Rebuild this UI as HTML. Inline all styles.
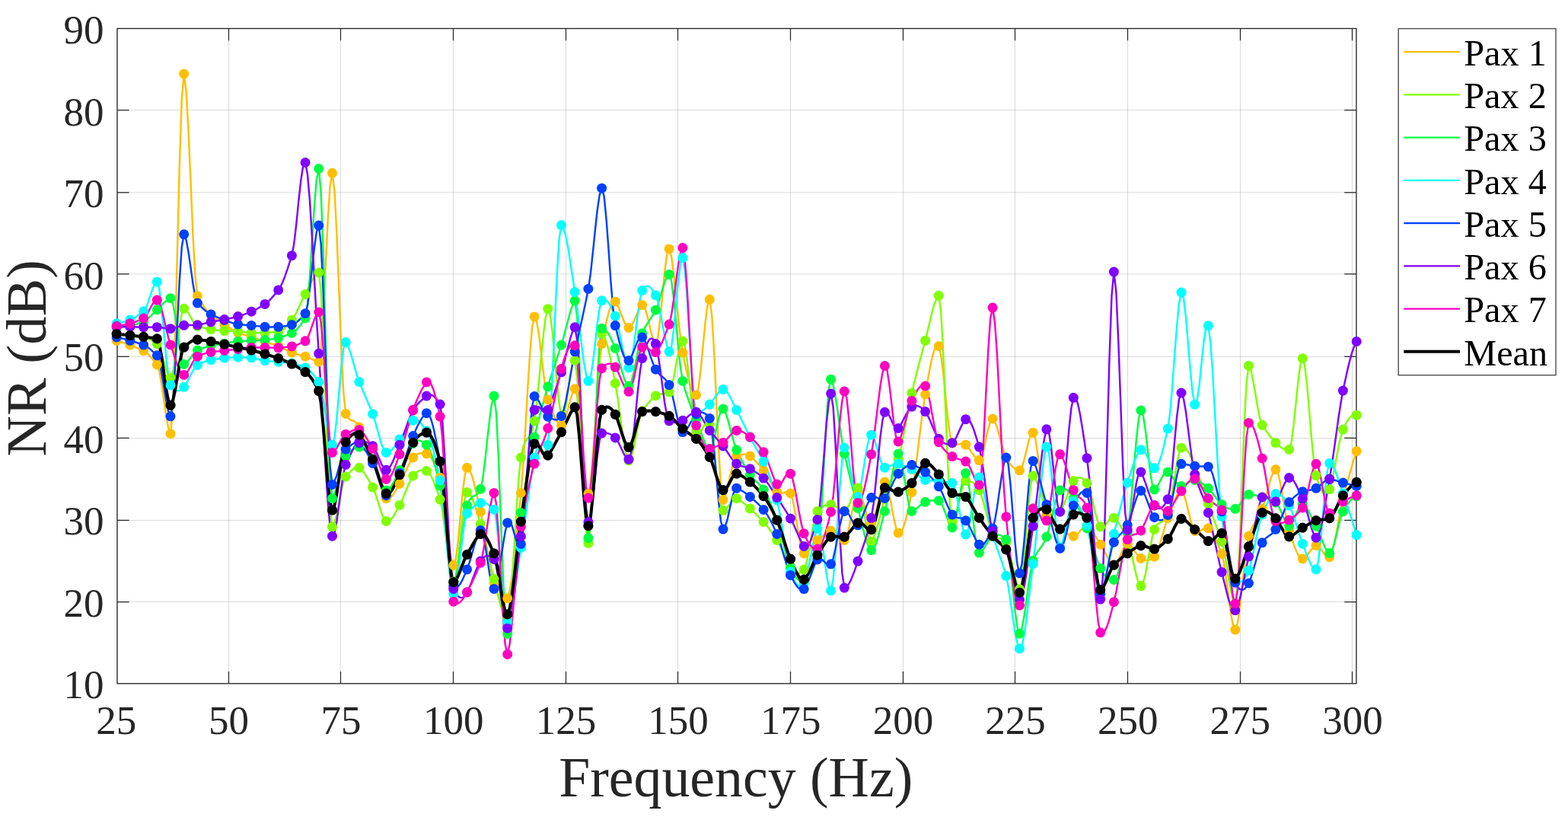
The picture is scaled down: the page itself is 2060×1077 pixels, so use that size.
<!DOCTYPE html>
<html lang="en"><head><meta charset="utf-8"><title>NR (dB) vs Frequency (Hz)</title>
<style>html,body{margin:0;padding:0;background:#fff;}body{width:2060px;height:1077px;overflow:hidden;}svg{display:block;}text{font-family:"Liberation Serif","DejaVu Serif",serif;fill:#262626;}</style></head><body>
<svg width="2060" height="1077" viewBox="0 0 2060 1077">
<rect x="0" y="0" width="2060" height="1077" fill="#ffffff"/>
<g stroke="#262626" stroke-opacity="0.17" stroke-width="1.0" fill="none"><path d="M300.50 37.47V897.80"/><path d="M447.50 37.47V897.80"/><path d="M595.50 37.47V897.80"/><path d="M743.50 37.47V897.80"/><path d="M890.50 37.47V897.80"/><path d="M1038.50 37.47V897.80"/><path d="M1186.50 37.47V897.80"/><path d="M1333.50 37.47V897.80"/><path d="M1481.50 37.47V897.80"/><path d="M1629.50 37.47V897.80"/><path d="M1776.50 37.47V897.80"/><path d="M153.97 790.55H1781.92"/><path d="M153.97 683.45H1781.92"/><path d="M153.97 575.45H1781.92"/><path d="M153.97 468.40H1781.92"/><path d="M153.97 359.90H1781.92"/><path d="M153.97 252.80H1781.92"/><path d="M153.97 144.50H1781.92"/></g>
<path d="M300.50 897.80v-15.70M300.50 37.47v15.70M447.50 897.80v-15.70M447.50 37.47v15.70M595.50 897.80v-15.70M595.50 37.47v15.70M743.50 897.80v-15.70M743.50 37.47v15.70M890.50 897.80v-15.70M890.50 37.47v15.70M1038.50 897.80v-15.70M1038.50 37.47v15.70M1186.50 897.80v-15.70M1186.50 37.47v15.70M1333.50 897.80v-15.70M1333.50 37.47v15.70M1481.50 897.80v-15.70M1481.50 37.47v15.70M1629.50 897.80v-15.70M1629.50 37.47v15.70M1776.50 897.80v-15.70M1776.50 37.47v15.70M153.97 790.55h15.70M1781.92 790.55h-15.70M153.97 683.45h15.70M1781.92 683.45h-15.70M153.97 575.45h15.70M1781.92 575.45h-15.70M153.97 468.40h15.70M1781.92 468.40h-15.70M153.97 359.90h15.70M1781.92 359.90h-15.70M153.97 252.80h15.70M1781.92 252.80h-15.70M153.97 144.50h15.70M1781.92 144.50h-15.70" stroke="#262626" stroke-width="1.25" fill="none"/>
<rect x="153.97" y="37.47" width="1627.95" height="860.33" fill="none" stroke="#262626" stroke-width="1.35"/>
<g fill="none" stroke-linejoin="round" stroke-linecap="butt">
<polyline stroke="#FFBF00" stroke-width="2.45" points="153.2,447.5 156.2,448.3 159.1,449.2 162.1,450.1 165.0,451.1 168.0,452.1 170.9,453.1 173.9,454.2 176.8,455.4 179.8,456.6 182.7,458.0 185.7,459.3 188.6,460.7 191.6,462.5 194.5,465.1 197.5,468.3 200.4,471.8 203.4,475.5 206.3,479.0 209.3,487.7 212.2,504.2 215.2,524.7 218.1,545.1 221.1,561.4 224.0,569.7 227.0,536.4 229.9,448.6 232.9,333.6 235.8,218.5 238.8,130.6 241.7,97.1 244.7,119.8 247.6,172.6 250.6,240.7 253.5,309.4 256.5,363.6 259.4,388.7 262.4,394.1 265.3,399.0 268.3,403.4 271.2,407.3 274.2,410.5 277.1,413.1 280.1,415.4 283.0,417.7 286.0,420.0 288.9,422.2 291.9,424.3 294.8,426.3 297.8,428.3 300.8,430.3 303.7,432.2 306.7,434.1 309.6,435.7 312.6,437.0 315.5,438.1 318.5,439.0 321.4,439.9 324.4,440.6 327.3,441.5 330.3,442.4 333.2,443.4 336.2,444.5 339.1,445.6 342.1,446.6 345.0,447.7 348.0,448.8 350.9,449.7 353.9,450.7 356.8,451.6 359.8,452.5 362.7,453.5 365.7,454.6 368.6,455.9 371.6,457.3 374.5,458.9 377.5,460.4 380.4,461.9 383.4,463.1 386.3,464.1 389.3,465.0 392.2,465.8 395.2,466.6 398.1,467.4 401.1,468.2 404.0,469.2 407.0,470.5 409.9,471.8 412.9,473.1 415.8,474.3 418.8,475.1 421.7,457.1 424.7,411.1 427.6,351.2 430.6,291.3 433.5,245.3 436.5,227.3 439.4,250.2 442.4,306.7 445.3,380.5 448.3,455.4 451.3,515.1 454.2,543.4 457.2,548.8 460.1,551.3 463.1,552.5 466.0,553.6 469.0,555.9 471.9,560.9 474.9,567.7 477.8,574.7 480.8,581.7 483.7,589.0 486.7,596.4 489.6,604.0 492.6,612.8 495.5,623.1 498.5,633.7 501.4,643.3 504.4,650.7 507.3,654.7 510.3,655.2 513.2,653.5 516.2,650.1 519.1,645.6 522.1,640.5 525.0,635.5 528.0,630.0 530.9,623.8 533.9,617.2 536.8,610.8 539.8,605.2 542.7,600.9 545.7,598.0 548.6,596.2 551.6,595.3 554.5,595.1 557.5,595.3 560.4,595.9 563.4,597.6 566.3,601.2 569.3,606.4 572.2,612.7 575.2,619.8 578.1,627.3 581.1,640.7 584.0,662.8 587.0,688.8 589.9,713.9 592.9,733.3 595.8,742.5 598.8,734.6 601.8,711.3 604.7,680.1 607.7,648.6 610.6,624.1 613.6,614.3 616.5,616.8 619.5,623.4 622.4,633.2 625.4,645.3 628.3,658.6 631.3,672.2 634.2,686.8 637.2,703.4 640.1,720.6 643.1,737.5 646.0,753.1 649.0,766.1 651.9,776.2 654.9,783.7 657.8,788.4 660.8,790.4 663.7,789.5 666.7,785.8 669.6,775.9 672.6,758.0 675.5,734.2 678.5,706.4 681.4,676.9 684.4,647.5 687.3,610.8 690.3,562.8 693.2,511.4 696.2,464.6 699.1,430.1 702.1,415.9 705.0,421.9 708.0,439.4 710.9,463.4 713.9,489.0 716.8,511.1 719.8,524.9 722.7,532.9 725.7,540.6 728.6,547.6 731.6,553.3 734.5,557.2 737.5,558.8 740.4,555.8 743.4,547.5 746.4,536.5 749.3,525.0 752.3,515.6 755.2,510.7 758.2,519.9 761.1,545.9 764.1,580.3 767.0,614.4 770.0,640.0 772.9,648.5 775.9,633.9 778.8,601.2 781.8,558.6 784.7,514.1 787.7,475.8 790.6,451.6 793.6,437.2 796.5,423.3 799.5,411.1 802.4,401.8 805.4,396.4 808.3,396.2 811.3,400.7 814.2,407.5 817.2,415.3 820.1,422.7 823.1,428.2 826.0,430.5 829.0,428.6 831.9,423.7 834.9,417.0 837.8,410.0 840.8,404.1 843.7,400.6 846.7,403.0 849.6,411.9 852.6,424.2 855.5,437.0 858.5,447.2 861.4,452.0 864.4,443.0 867.3,419.2 870.3,388.0 873.2,357.2 876.2,334.3 879.1,326.9 882.1,337.0 885.0,358.2 888.0,385.9 890.9,415.7 893.9,443.0 896.9,463.3 899.8,477.9 902.8,490.9 905.7,501.8 908.7,510.4 911.6,516.1 914.6,518.7 917.5,509.8 920.5,486.5 923.4,455.9 926.4,425.3 929.3,402.1 932.3,393.3 935.2,413.6 938.2,462.9 941.1,526.4 944.1,589.7 947.0,637.9 950.0,656.5 952.9,651.5 955.9,640.8 958.8,627.3 961.8,613.9 964.7,603.4 967.7,598.9 970.6,598.2 973.6,597.4 976.5,596.8 979.5,596.6 982.4,597.3 985.4,598.9 988.3,601.4 991.3,604.2 994.2,607.3 997.2,610.6 1000.1,614.2 1003.1,617.9 1006.0,622.1 1009.0,626.9 1011.9,632.1 1014.9,637.2 1017.8,642.0 1020.8,646.2 1023.7,648.4 1026.7,648.4 1029.6,647.3 1032.6,646.1 1035.5,646.0 1038.5,648.0 1041.5,656.3 1044.4,671.8 1047.4,690.5 1050.3,708.5 1053.3,722.0 1056.2,726.9 1059.2,725.6 1062.1,722.9 1065.1,719.4 1068.0,715.7 1071.0,712.2 1073.9,709.4 1076.9,707.2 1079.8,704.9 1082.8,702.6 1085.7,700.5 1088.7,698.6 1091.6,697.1 1094.6,697.0 1097.5,699.1 1100.5,702.3 1103.4,705.8 1106.4,708.4 1109.3,709.4 1112.3,704.9 1115.2,693.7 1118.2,679.0 1121.1,664.0 1124.1,652.0 1127.0,646.0 1130.0,647.9 1132.9,655.4 1135.9,665.9 1138.8,676.6 1141.8,684.7 1144.7,687.6 1147.7,683.1 1150.6,672.8 1153.6,659.8 1156.5,646.9 1159.5,637.0 1162.4,633.0 1165.4,637.6 1168.3,649.3 1171.3,664.6 1174.2,680.4 1177.2,693.3 1180.1,700.0 1183.1,699.7 1186.0,694.7 1189.0,685.9 1192.0,674.3 1194.9,660.8 1197.9,646.5 1200.8,629.3 1203.8,607.8 1206.7,584.0 1209.7,559.8 1212.6,537.2 1215.6,518.0 1218.5,501.1 1221.5,484.8 1224.4,470.7 1227.4,460.0 1230.3,454.1 1233.3,454.5 1236.2,466.4 1239.2,489.9 1242.1,519.2 1245.1,548.2 1248.0,571.2 1251.0,582.0 1253.9,583.8 1256.9,584.0 1259.8,583.4 1262.8,582.8 1265.7,582.8 1268.7,584.2 1271.6,587.3 1274.6,591.3 1277.5,595.7 1280.5,599.8 1283.4,603.0 1286.4,604.6 1289.3,600.9 1292.3,590.6 1295.2,577.1 1298.2,563.6 1301.1,553.4 1304.1,550.0 1307.0,553.7 1310.0,561.8 1312.9,572.3 1315.9,583.5 1318.8,593.7 1321.8,601.0 1324.7,605.9 1327.7,610.1 1330.6,613.5 1333.6,615.9 1336.6,617.4 1339.5,617.8 1342.5,613.8 1345.4,604.3 1348.4,592.1 1351.3,580.1 1354.3,571.2 1357.2,568.2 1360.2,576.2 1363.1,595.0 1366.1,619.5 1369.0,644.7 1372.0,665.4 1374.9,676.5 1377.9,680.9 1380.8,684.7 1383.8,688.0 1386.7,690.8 1389.7,693.1 1392.6,695.0 1395.6,696.9 1398.5,698.8 1401.5,700.8 1404.4,702.4 1407.4,703.6 1410.3,704.2 1413.3,703.3 1416.2,700.7 1419.2,697.3 1422.1,693.9 1425.1,691.5 1428.0,691.0 1431.0,692.7 1433.9,696.0 1436.9,700.4 1439.8,705.4 1442.8,710.5 1445.7,715.2 1448.7,719.9 1451.6,725.3 1454.6,730.8 1457.5,735.8 1460.5,739.7 1463.4,742.0 1466.4,740.8 1469.3,735.8 1472.3,728.8 1475.2,721.8 1478.2,716.4 1481.2,714.5 1484.1,716.0 1487.1,719.0 1490.0,723.0 1493.0,727.1 1495.9,730.8 1498.9,733.4 1501.8,734.8 1504.8,735.7 1507.7,735.9 1510.7,735.3 1513.6,733.7 1516.6,731.2 1519.5,726.3 1522.5,718.6 1525.4,709.0 1528.4,698.8 1531.3,688.9 1534.3,680.5 1537.2,672.7 1540.2,664.7 1543.1,657.1 1546.1,650.7 1549.0,646.4 1552.0,645.0 1554.9,648.7 1557.9,657.6 1560.8,669.4 1563.8,681.6 1566.7,691.8 1569.7,697.5 1572.6,698.8 1575.6,698.1 1578.5,696.3 1581.5,694.4 1584.4,693.3 1587.4,693.8 1590.3,696.4 1593.3,700.7 1596.2,706.2 1599.2,712.7 1602.1,719.8 1605.1,727.3 1608.0,740.0 1611.0,759.9 1613.9,782.8 1616.9,804.5 1619.8,820.7 1622.8,827.1 1625.7,819.4 1628.7,799.3 1631.7,772.4 1634.6,743.9 1637.6,719.4 1640.5,704.0 1643.5,696.2 1646.4,690.1 1649.4,685.0 1652.3,680.2 1655.3,674.8 1658.2,668.3 1661.2,659.4 1664.1,648.6 1667.1,637.3 1670.0,627.2 1673.0,619.8 1675.9,616.6 1678.9,621.1 1681.8,633.4 1684.8,650.4 1687.7,668.9 1690.7,685.6 1693.6,697.5 1696.6,706.0 1699.5,714.6 1702.5,722.4 1705.4,728.8 1708.4,732.8 1711.3,733.9 1714.3,732.3 1717.2,729.2 1720.2,725.4 1723.1,721.6 1726.1,718.3 1729.0,716.4 1732.0,717.1 1734.9,720.3 1737.9,724.7 1740.8,728.9 1743.8,731.7 1746.7,731.7 1749.7,726.3 1752.6,715.2 1755.6,700.4 1758.5,684.1 1761.5,668.2 1764.4,655.0 1767.4,643.8 1770.3,632.8 1773.3,622.1 1776.2,611.7 1779.2,601.9 1782.2,592.6"/>
<polyline stroke="#80FF00" stroke-width="2.45" points="153.2,438.5 156.2,438.8 159.1,439.2 162.1,439.5 165.0,439.8 168.0,440.2 170.9,440.5 173.9,440.8 176.8,441.2 179.8,441.5 182.7,441.9 185.7,442.2 188.6,442.6 191.6,443.3 194.5,444.4 197.5,446.0 200.4,447.8 203.4,449.7 206.3,451.7 209.3,456.2 212.2,464.6 215.2,474.8 218.1,484.8 221.1,492.5 224.0,496.1 227.0,489.8 229.9,472.9 232.9,450.8 235.8,428.6 238.8,411.7 241.7,405.3 244.7,407.3 247.6,411.4 250.6,416.6 253.5,421.8 256.5,426.1 259.4,428.3 262.4,429.1 265.3,430.0 268.3,430.8 271.2,431.6 274.2,432.2 277.1,432.6 280.1,433.0 283.0,433.4 286.0,433.8 288.9,434.1 291.9,434.4 294.8,434.6 297.8,434.7 300.8,434.8 303.7,434.8 306.7,434.8 309.6,434.9 312.6,435.1 315.5,435.3 318.5,435.8 321.4,436.2 324.4,436.7 327.3,437.0 330.3,437.2 333.2,437.2 336.2,437.2 339.1,437.1 342.1,437.0 345.0,436.9 348.0,436.8 350.9,436.7 353.9,436.6 356.8,436.4 359.8,436.2 362.7,436.0 365.7,435.8 368.6,435.0 371.6,433.2 374.5,430.7 377.5,427.5 380.4,423.9 383.4,420.2 386.3,415.8 389.3,410.6 392.2,404.6 395.2,398.4 398.1,392.2 401.1,386.4 404.0,380.5 407.0,374.5 409.9,368.7 412.9,363.7 415.8,360.0 418.8,358.1 421.7,382.3 424.7,444.2 427.6,524.9 430.6,605.6 433.5,667.5 436.5,691.8 439.4,686.8 442.4,675.2 445.3,660.3 448.3,645.1 451.3,632.6 454.2,626.0 457.2,623.0 460.1,619.7 463.1,616.7 466.0,614.4 469.0,613.4 471.9,614.3 474.9,616.9 477.8,620.4 480.8,624.6 483.7,629.5 486.7,634.7 489.6,640.1 492.6,646.9 495.5,655.7 498.5,665.2 501.4,674.0 504.4,680.9 507.3,684.5 510.3,684.8 513.2,682.8 516.2,679.1 519.1,674.2 522.1,668.8 525.0,663.4 528.0,657.5 530.9,650.6 533.9,643.3 536.8,636.2 539.8,629.9 542.7,624.9 545.7,621.5 548.6,619.2 551.6,617.9 554.5,617.4 557.5,617.6 560.4,618.4 563.4,620.6 566.3,625.1 569.3,631.4 572.2,639.0 575.2,647.4 578.1,656.1 581.1,669.9 584.0,690.9 587.0,715.0 589.9,738.0 592.9,755.7 595.8,764.0 598.8,756.9 601.8,735.7 604.7,707.2 607.7,678.4 610.6,655.9 613.6,646.6 616.5,648.0 619.5,652.4 622.4,659.3 625.4,667.9 628.3,677.8 631.3,688.2 634.2,699.3 637.2,711.2 640.1,723.6 643.1,736.2 646.0,748.5 649.0,760.3 651.9,772.1 654.9,784.2 657.8,795.4 660.8,804.5 663.7,810.4 666.7,812.0 669.6,798.2 672.6,764.3 675.5,719.1 678.5,671.1 681.4,628.8 684.4,600.9 687.3,587.1 690.3,579.8 693.2,575.7 696.2,571.9 699.1,565.4 702.1,553.0 705.0,531.2 708.0,501.8 710.9,469.6 713.9,439.6 716.8,416.6 719.8,405.7 722.7,412.7 725.7,435.5 728.6,467.1 731.6,500.7 734.5,529.3 737.5,546.0 740.4,545.8 743.4,532.7 746.4,512.7 749.3,492.1 752.3,477.0 755.2,473.5 758.2,494.4 761.1,539.8 764.1,597.1 767.0,653.6 770.0,696.6 772.9,713.5 775.9,692.7 778.8,641.6 781.8,575.4 784.7,509.2 787.7,458.5 790.6,438.5 793.6,441.5 796.5,449.0 799.5,459.9 802.4,473.3 805.4,488.1 808.3,503.4 811.3,521.3 814.2,542.7 817.2,564.7 820.1,584.4 823.1,598.7 826.0,604.8 829.0,601.2 831.9,590.7 834.9,576.3 837.8,561.0 840.8,547.9 843.7,540.0 846.7,535.8 849.6,531.9 852.6,528.3 855.5,525.0 858.5,522.2 861.4,519.8 864.4,518.2 867.3,517.6 870.3,517.3 873.2,517.1 876.2,516.5 879.1,515.1 882.1,508.8 885.0,496.0 888.0,480.3 890.9,464.8 893.9,452.9 896.9,448.0 899.8,455.4 902.8,474.8 905.7,500.9 908.7,528.4 911.6,552.0 914.6,566.5 917.5,570.3 920.5,567.6 923.4,561.8 926.4,556.0 929.3,553.7 932.3,558.1 935.2,572.5 938.2,594.8 941.1,620.4 944.1,644.6 947.0,662.8 950.0,670.3 952.9,669.3 955.9,666.0 958.8,661.6 961.8,657.4 964.7,654.7 967.7,654.7 970.6,656.5 973.6,658.5 976.5,660.6 979.5,662.9 982.4,665.4 985.4,667.9 988.3,670.5 991.3,673.3 994.2,676.1 997.2,679.1 1000.1,682.2 1003.1,685.4 1006.0,688.8 1009.0,692.5 1011.9,696.4 1014.9,700.5 1017.8,704.9 1020.8,709.4 1023.7,714.7 1026.7,720.9 1029.6,727.4 1032.6,734.0 1035.5,740.0 1038.5,745.2 1041.5,749.0 1044.4,751.6 1047.4,752.8 1050.3,752.7 1053.3,751.1 1056.2,748.1 1059.2,740.2 1062.1,726.2 1065.1,709.2 1068.0,692.4 1071.0,678.8 1073.9,671.5 1076.9,668.7 1079.8,666.3 1082.8,664.4 1085.7,663.1 1088.7,662.5 1091.6,662.6 1094.6,663.5 1097.5,664.9 1100.5,666.7 1103.4,668.5 1106.4,670.0 1109.3,671.0 1112.3,669.2 1115.2,663.9 1118.2,656.7 1121.1,649.3 1124.1,643.4 1127.0,640.7 1130.0,645.9 1132.9,659.6 1135.9,677.3 1138.8,694.7 1141.8,707.4 1144.7,710.9 1147.7,706.3 1150.6,698.2 1153.6,687.8 1156.5,676.3 1159.5,665.0 1162.4,655.0 1165.4,646.4 1168.3,638.4 1171.3,630.4 1174.2,622.1 1177.2,613.1 1180.1,603.0 1183.1,590.8 1186.0,576.5 1189.0,561.0 1192.0,545.2 1194.9,529.9 1197.9,516.2 1200.8,503.8 1203.8,492.0 1206.7,480.6 1209.7,469.4 1212.6,458.4 1215.6,447.3 1218.5,435.4 1221.5,422.8 1224.4,410.7 1227.4,400.2 1230.3,392.3 1233.3,388.2 1236.2,409.0 1239.2,463.6 1242.1,535.4 1245.1,607.5 1248.0,663.1 1251.0,685.4 1253.9,681.4 1256.9,671.3 1259.8,658.2 1262.8,645.2 1265.7,635.3 1268.7,631.6 1271.6,632.0 1274.6,632.5 1277.5,633.6 1280.5,635.6 1283.4,638.8 1286.4,643.7 1289.3,651.2 1292.3,660.9 1295.2,671.9 1298.2,682.8 1301.1,692.6 1304.1,700.0 1307.0,704.4 1310.0,706.6 1312.9,707.4 1315.9,708.0 1318.8,709.2 1321.8,712.0 1324.7,719.2 1327.7,731.1 1330.6,745.1 1333.6,758.7 1336.6,769.2 1339.5,773.9 1342.5,763.5 1345.4,735.9 1348.4,699.6 1351.3,663.3 1354.3,635.6 1357.2,625.0 1360.2,628.3 1363.1,635.2 1366.1,644.0 1369.0,653.0 1372.0,660.6 1374.9,665.0 1377.9,667.5 1380.8,670.0 1383.8,672.2 1386.7,673.5 1389.7,673.6 1392.6,672.0 1395.6,667.7 1398.5,660.8 1401.5,652.6 1404.4,644.1 1407.4,636.7 1410.3,631.6 1413.3,628.7 1416.2,627.3 1419.2,627.2 1422.1,628.5 1425.1,630.9 1428.0,634.5 1431.0,641.3 1433.9,652.1 1436.9,664.6 1439.8,676.8 1442.8,686.6 1445.7,691.8 1448.7,692.3 1451.6,690.1 1454.6,686.4 1457.5,682.7 1460.5,680.2 1463.4,680.2 1466.4,682.6 1469.3,686.3 1472.3,691.0 1475.2,696.5 1478.2,702.4 1481.2,708.5 1484.1,717.2 1487.1,729.6 1490.0,743.3 1493.0,756.1 1495.9,765.6 1498.9,769.6 1501.8,765.4 1504.8,754.0 1507.7,738.5 1510.7,721.5 1513.6,706.2 1516.6,695.5 1519.5,689.9 1522.5,687.1 1525.4,685.6 1528.4,684.1 1531.3,681.0 1534.3,675.0 1537.2,663.3 1540.2,646.4 1543.1,627.4 1546.1,609.2 1549.0,595.2 1552.0,588.2 1554.9,587.3 1557.9,589.1 1560.8,592.9 1563.8,598.4 1566.7,604.9 1569.7,612.0 1572.6,619.5 1575.6,627.6 1578.5,636.0 1581.5,644.7 1584.4,653.3 1587.4,661.7 1590.3,670.0 1593.3,678.1 1596.2,686.2 1599.2,694.4 1602.1,702.7 1605.1,711.3 1608.0,723.2 1611.0,739.5 1613.9,757.5 1616.9,774.5 1619.8,787.9 1622.8,795.0 1625.7,773.5 1628.7,715.3 1631.7,638.5 1634.6,561.5 1637.6,502.7 1640.5,480.3 1643.5,486.7 1646.4,500.2 1649.4,517.4 1652.3,535.0 1655.3,549.7 1658.2,558.3 1661.2,562.7 1664.1,566.9 1667.1,571.0 1670.0,574.9 1673.0,578.4 1675.9,581.6 1678.9,584.4 1681.8,586.8 1684.8,588.7 1687.7,590.0 1690.7,590.6 1693.6,590.4 1696.6,581.0 1699.5,558.5 1702.5,529.6 1705.4,500.9 1708.4,479.1 1711.3,470.8 1714.3,481.3 1717.2,506.9 1720.2,540.8 1723.1,576.2 1726.1,606.4 1729.0,624.6 1732.0,633.9 1734.9,641.6 1737.9,647.0 1740.8,649.4 1743.8,648.2 1746.7,642.8 1749.7,632.5 1752.6,618.5 1755.6,602.7 1758.5,587.0 1761.5,573.5 1764.4,564.1 1767.4,557.9 1770.3,552.7 1773.3,548.6 1776.2,545.9 1779.2,544.7 1782.2,545.2"/>
<polyline stroke="#00FF40" stroke-width="2.45" points="153.2,428.3 156.2,428.3 159.1,428.2 162.1,428.1 165.0,427.8 168.0,427.6 170.9,427.3 173.9,426.9 176.8,426.4 179.8,425.6 182.7,424.7 185.7,423.7 188.6,422.4 191.6,420.7 194.5,418.3 197.5,415.5 200.4,412.6 203.4,409.6 206.3,406.8 209.3,404.0 212.2,400.9 215.2,397.9 218.1,395.2 221.1,393.0 224.0,391.7 227.0,397.6 229.9,413.7 232.9,434.8 235.8,456.0 238.8,472.2 241.7,478.5 244.7,477.0 247.6,473.8 250.6,469.8 253.5,465.6 256.5,462.0 259.4,460.0 262.4,458.9 265.3,457.7 268.3,456.6 271.2,455.6 274.2,454.8 277.1,454.1 280.1,453.6 283.0,453.1 286.0,452.6 288.9,452.2 291.9,451.7 294.8,451.2 297.8,450.7 300.8,450.1 303.7,449.5 306.7,449.0 309.6,448.5 312.6,448.2 315.5,448.1 318.5,447.9 321.4,447.9 324.4,447.8 327.3,447.7 330.3,447.6 333.2,447.4 336.2,447.3 339.1,447.1 342.1,446.9 345.0,446.7 348.0,446.5 350.9,446.3 353.9,445.9 356.8,445.4 359.8,444.9 362.7,444.4 365.7,443.8 368.6,443.2 371.6,442.2 374.5,441.1 377.5,439.9 380.4,438.7 383.4,437.5 386.3,435.9 389.3,433.3 392.2,430.0 395.2,426.2 398.1,422.1 401.1,417.8 404.0,400.5 407.0,363.8 409.9,317.7 412.9,272.0 415.8,236.6 418.8,221.5 421.7,252.6 424.7,333.0 427.6,438.0 430.6,543.0 433.5,623.5 436.5,654.7 439.4,649.7 442.4,639.7 445.3,627.2 448.3,614.6 451.3,604.3 454.2,598.8 457.2,596.3 460.1,593.4 463.1,590.7 466.0,588.5 469.0,587.2 471.9,587.1 474.9,588.3 477.8,590.2 480.8,592.8 483.7,595.8 486.7,599.3 489.6,603.0 492.6,608.6 495.5,616.9 498.5,626.1 501.4,634.7 504.4,641.2 507.3,644.0 510.3,643.0 513.2,639.8 516.2,635.0 519.1,629.3 522.1,623.3 525.0,617.6 528.0,611.9 530.9,605.5 533.9,598.9 536.8,592.6 539.8,586.9 542.7,582.4 545.7,579.5 548.6,578.4 551.6,578.6 554.5,579.9 557.5,581.9 560.4,584.2 563.4,588.3 566.3,595.0 569.3,604.0 572.2,614.5 575.2,626.0 578.1,638.0 581.1,655.5 584.0,681.0 587.0,709.4 589.9,736.0 592.9,755.8 595.8,764.0 598.8,758.4 601.8,742.8 604.7,721.4 607.7,698.4 610.6,678.0 613.6,664.1 616.5,657.2 619.5,653.6 622.4,651.7 625.4,650.2 628.3,647.6 631.3,642.3 634.2,628.7 637.2,605.6 640.1,578.1 643.1,551.3 646.0,530.3 649.0,520.1 651.9,541.9 654.9,601.0 657.8,678.4 660.8,755.3 663.7,813.0 666.7,832.4 669.6,819.1 672.6,794.1 675.5,762.3 678.5,728.3 681.4,697.1 684.4,673.4 687.3,655.1 690.3,637.0 693.2,619.5 696.2,602.9 699.1,587.7 702.1,574.1 705.0,561.8 708.0,550.1 710.9,538.8 713.9,528.1 716.8,517.7 719.8,507.8 722.7,498.2 725.7,489.0 728.6,480.0 731.6,471.1 734.5,462.2 737.5,453.1 740.4,443.0 743.4,431.6 746.4,420.2 749.3,409.5 752.3,400.7 755.2,394.8 758.2,415.1 761.1,472.3 764.1,548.2 767.0,624.6 770.0,683.5 772.9,706.7 775.9,685.9 778.8,634.8 781.8,568.6 784.7,502.6 787.7,451.7 790.6,431.2 793.6,432.0 796.5,434.5 799.5,438.6 802.4,444.0 805.4,450.4 808.3,457.5 811.3,466.2 814.2,476.8 817.2,487.6 820.1,497.3 823.1,504.3 826.0,507.0 829.0,503.0 831.9,492.3 834.9,477.8 837.8,462.1 840.8,447.8 843.7,437.8 846.7,431.4 849.6,426.2 852.6,421.6 855.5,417.2 858.5,412.5 861.4,407.2 864.4,399.7 867.3,390.2 870.3,379.9 873.2,370.6 876.2,363.6 879.1,360.5 882.1,368.8 885.0,391.1 888.0,421.5 890.9,453.8 893.9,482.1 896.9,500.5 899.8,511.1 902.8,520.4 905.7,528.8 908.7,536.6 911.6,543.8 914.6,551.0 917.5,558.7 920.5,566.9 923.4,575.0 926.4,582.0 929.3,587.3 932.3,590.0 935.2,586.7 938.2,576.5 941.1,562.9 944.1,549.5 947.0,539.7 950.0,537.0 952.9,541.4 955.9,549.9 958.8,560.6 961.8,572.1 964.7,582.8 967.7,590.9 970.6,597.1 973.6,603.1 976.5,608.8 979.5,614.1 982.4,619.0 985.4,623.4 988.3,627.2 991.3,630.3 994.2,633.0 997.2,635.9 1000.1,639.1 1003.1,643.0 1006.0,647.9 1009.0,653.7 1011.9,660.2 1014.9,667.4 1017.8,675.0 1020.8,683.0 1023.7,692.4 1026.7,703.8 1029.6,716.0 1032.6,727.9 1035.5,738.5 1038.5,746.6 1041.5,752.4 1044.4,756.8 1047.4,760.1 1050.3,762.5 1053.3,764.2 1056.2,765.6 1059.2,765.2 1062.1,761.9 1065.1,756.2 1068.0,748.5 1071.0,739.3 1073.9,729.0 1076.9,704.2 1079.8,658.6 1082.8,603.8 1085.7,551.2 1088.7,512.2 1091.6,498.3 1094.6,505.5 1097.5,520.2 1100.5,539.5 1103.4,560.5 1106.4,580.3 1109.3,596.0 1112.3,608.6 1115.2,621.1 1118.2,633.3 1121.1,645.2 1124.1,656.6 1127.0,667.5 1130.0,678.8 1132.9,690.8 1135.9,702.4 1138.8,712.3 1141.8,719.4 1144.7,722.6 1147.7,720.7 1150.6,714.6 1153.6,705.3 1156.5,694.2 1159.5,682.5 1162.4,671.5 1165.4,659.1 1168.3,643.7 1171.3,627.6 1174.2,612.8 1177.2,601.5 1180.1,596.0 1183.1,600.3 1186.0,614.1 1189.0,632.7 1192.0,651.6 1194.9,666.0 1197.9,671.5 1200.8,670.4 1203.8,668.3 1206.7,665.7 1209.7,663.0 1212.6,660.7 1215.6,659.3 1218.5,658.5 1221.5,657.9 1224.4,657.4 1227.4,657.2 1230.3,657.2 1233.3,657.5 1236.2,660.1 1239.2,666.2 1242.1,674.1 1245.1,682.2 1248.0,689.0 1251.0,693.0 1253.9,689.0 1256.9,675.9 1259.8,658.2 1262.8,640.3 1265.7,626.6 1268.7,621.4 1271.6,629.6 1274.6,649.3 1277.5,674.5 1280.5,699.6 1283.4,718.7 1286.4,726.1 1289.3,724.4 1292.3,720.7 1295.2,715.9 1298.2,710.9 1301.1,706.7 1304.1,704.0 1307.0,702.8 1310.0,702.3 1312.9,702.6 1315.9,703.7 1318.8,705.7 1321.8,708.6 1324.7,720.2 1327.7,744.1 1330.6,773.6 1333.6,802.5 1336.6,824.2 1339.5,832.2 1342.5,825.6 1345.4,810.1 1348.4,789.5 1351.3,767.8 1354.3,748.7 1357.2,736.3 1360.2,729.6 1363.1,724.8 1366.1,720.8 1369.0,716.7 1372.0,711.8 1374.9,705.0 1377.9,695.3 1380.8,683.3 1383.8,670.7 1386.7,658.8 1389.7,649.3 1392.6,643.7 1395.6,641.7 1398.5,641.6 1401.5,643.2 1404.4,646.1 1407.4,650.0 1410.3,654.6 1413.3,659.8 1416.2,665.7 1419.2,672.3 1422.1,679.2 1425.1,686.5 1428.0,694.0 1431.0,702.2 1433.9,711.4 1436.9,721.0 1439.8,730.4 1442.8,739.1 1445.7,746.4 1448.7,752.1 1451.6,756.3 1454.6,759.3 1457.5,761.1 1460.5,761.8 1463.4,761.5 1466.4,758.5 1469.3,751.4 1472.3,741.1 1475.2,728.5 1478.2,714.5 1481.2,700.0 1484.1,678.3 1487.1,646.4 1490.0,610.3 1493.0,576.3 1495.9,550.5 1498.9,539.0 1501.8,545.3 1504.8,564.5 1507.7,590.2 1510.7,616.0 1513.6,635.8 1516.6,643.0 1519.5,640.3 1522.5,635.2 1525.4,629.2 1528.4,623.7 1531.3,620.1 1534.3,619.9 1537.2,622.7 1540.2,626.5 1543.1,630.6 1546.1,634.5 1549.0,637.3 1552.0,638.4 1554.9,637.8 1557.9,636.2 1560.8,634.2 1563.8,632.2 1566.7,630.7 1569.7,630.4 1572.6,631.1 1575.6,632.5 1578.5,634.3 1581.5,636.4 1584.4,638.8 1587.4,641.3 1590.3,644.3 1593.3,648.0 1596.2,652.0 1599.2,656.0 1602.1,659.6 1605.1,662.5 1608.0,664.7 1611.0,666.6 1613.9,667.9 1616.9,668.8 1619.8,668.9 1622.8,668.3 1625.7,666.2 1628.7,662.6 1631.7,658.2 1634.6,654.0 1637.6,650.8 1640.5,649.4 1643.5,649.4 1646.4,649.7 1649.4,650.4 1652.3,651.2 1655.3,652.1 1658.2,653.0 1661.2,653.9 1664.1,654.8 1667.1,655.9 1670.0,657.1 1673.0,658.4 1675.9,660.0 1678.9,663.3 1681.8,669.1 1684.8,676.0 1687.7,682.8 1690.7,688.2 1693.6,690.9 1696.6,689.2 1699.5,683.8 1702.5,676.3 1705.4,669.0 1708.4,663.5 1711.3,662.0 1714.3,664.1 1717.2,668.1 1720.2,673.3 1723.1,679.2 1726.1,685.3 1729.0,690.9 1732.0,697.1 1734.9,704.5 1737.9,712.2 1740.8,719.1 1743.8,724.2 1746.7,726.6 1749.7,723.7 1752.6,715.2 1755.6,703.4 1758.5,690.8 1761.5,679.5 1764.4,672.0 1767.4,667.1 1770.3,662.6 1773.3,658.5 1776.2,655.3 1779.2,653.0 1782.2,652.0"/>
<polyline stroke="#00FFFF" stroke-width="2.45" points="153.2,424.8 156.2,424.5 159.1,423.8 162.1,423.0 165.0,422.0 168.0,421.0 170.9,420.0 173.9,418.8 176.8,417.2 179.8,415.3 182.7,413.1 185.7,410.9 188.6,408.8 191.6,404.5 194.5,397.1 197.5,388.2 200.4,379.7 203.4,373.1 206.3,370.2 209.3,379.4 212.2,403.2 215.2,434.6 218.1,466.8 221.1,492.9 224.0,505.8 227.0,509.4 229.9,511.9 232.9,513.1 235.8,513.0 238.8,511.4 241.7,508.3 244.7,503.6 247.6,498.1 250.6,492.2 253.5,486.8 256.5,482.3 259.4,479.5 262.4,477.8 265.3,476.4 268.3,475.1 271.2,474.1 274.2,473.2 277.1,472.7 280.1,472.2 283.0,471.7 286.0,471.2 288.9,470.8 291.9,470.5 294.8,470.2 297.8,470.0 300.8,469.8 303.7,469.6 306.7,469.5 309.6,469.3 312.6,469.2 315.5,469.2 318.5,469.3 321.4,469.4 324.4,469.5 327.3,469.7 330.3,470.0 333.2,470.4 336.2,471.0 339.1,471.7 342.1,472.5 345.0,473.1 348.0,473.6 350.9,473.9 353.9,474.2 356.8,474.4 359.8,474.6 362.7,474.8 365.7,475.1 368.6,475.4 371.6,475.7 374.5,476.0 377.5,476.3 380.4,476.7 383.4,477.0 386.3,477.6 389.3,478.4 392.2,479.4 395.2,480.5 398.1,481.7 401.1,482.9 404.0,484.5 407.0,486.9 409.9,490.0 412.9,493.6 415.8,497.5 418.8,501.6 421.7,510.4 424.7,526.0 427.6,544.8 430.6,563.2 433.5,577.5 436.5,584.2 439.4,575.0 442.4,549.6 445.3,516.1 448.3,482.8 451.3,457.9 454.2,449.6 457.2,454.4 460.1,462.3 463.1,472.2 466.0,482.9 469.0,493.1 471.9,501.6 474.9,508.8 477.8,515.7 480.8,522.5 483.7,529.3 486.7,536.3 489.6,543.7 492.6,552.6 495.5,563.2 498.5,574.0 501.4,583.8 504.4,591.1 507.3,594.4 510.3,594.3 513.2,592.4 516.2,589.2 519.1,585.2 522.1,580.9 525.0,576.9 528.0,572.9 530.9,568.4 533.9,563.7 536.8,559.2 539.8,555.3 542.7,552.2 545.7,550.8 548.6,551.7 551.6,554.2 554.5,557.8 557.5,561.9 560.4,566.0 563.4,571.5 566.3,579.9 569.3,590.6 572.2,603.0 575.2,616.6 578.1,630.7 581.1,651.5 584.0,681.6 587.0,715.2 589.9,746.6 592.9,770.1 595.8,780.0 598.8,773.4 601.8,755.2 604.7,730.7 607.7,705.4 610.6,684.8 613.6,674.3 616.5,670.9 619.5,667.9 622.4,665.3 625.4,663.2 628.3,661.5 631.3,660.5 634.2,660.1 637.2,660.6 640.1,661.7 643.1,663.6 646.0,666.1 649.0,669.2 651.9,682.7 654.9,710.9 657.8,746.1 660.8,780.7 663.7,806.7 666.7,816.4 669.6,811.1 672.6,798.5 675.5,780.9 678.5,760.4 681.4,739.2 684.4,719.4 687.3,700.1 690.3,679.4 693.2,658.3 696.2,637.6 699.1,618.3 702.1,601.1 705.0,590.9 708.0,589.3 710.9,591.9 713.9,594.7 716.8,593.6 719.8,584.3 722.7,552.8 725.7,496.5 728.6,429.1 731.6,364.1 734.5,315.1 737.5,295.6 740.4,299.5 743.4,310.2 746.4,325.9 749.3,344.6 752.3,364.5 755.2,383.5 758.2,404.1 761.1,428.3 764.1,453.0 767.0,475.2 770.0,492.0 772.9,500.5 775.9,495.2 778.8,477.1 781.8,452.0 784.7,425.9 787.7,404.9 790.6,394.8 793.6,393.5 796.5,394.6 799.5,397.7 802.4,402.4 805.4,408.3 808.3,415.2 811.3,425.1 814.2,438.8 817.2,453.8 820.1,467.8 823.1,478.4 826.0,483.0 829.0,476.8 831.9,459.9 834.9,437.1 837.8,413.2 840.8,393.1 843.7,381.6 846.7,377.4 849.6,375.8 852.6,376.3 855.5,378.7 858.5,382.7 861.4,387.8 864.4,396.6 867.3,409.9 870.3,425.5 873.2,440.9 876.2,453.8 879.1,461.8 882.1,455.8 885.0,433.2 888.0,402.2 890.9,370.8 893.9,346.9 896.9,338.6 899.8,355.0 902.8,392.7 905.7,441.0 908.7,489.0 911.6,525.9 914.6,541.0 917.5,541.1 920.5,540.3 923.4,538.8 926.4,536.7 929.3,534.1 932.3,531.1 935.2,527.6 938.2,523.5 941.1,519.2 944.1,515.5 947.0,512.7 950.0,511.4 952.9,512.5 955.9,515.8 958.8,520.7 961.8,526.5 964.7,532.7 967.7,538.4 970.6,544.0 973.6,549.9 976.5,556.1 979.5,562.3 982.4,568.4 985.4,574.3 988.3,579.8 991.3,584.9 994.2,590.0 997.2,595.1 1000.1,600.4 1003.1,606.2 1006.0,612.7 1009.0,620.0 1011.9,628.1 1014.9,637.0 1017.8,646.7 1020.8,657.0 1023.7,670.1 1026.7,686.9 1029.6,705.3 1032.6,723.4 1035.5,739.3 1038.5,751.0 1041.5,758.9 1044.4,764.6 1047.4,768.1 1050.3,769.5 1053.3,768.6 1056.2,765.6 1059.2,758.1 1062.1,745.7 1065.1,730.7 1068.0,715.5 1071.0,702.5 1073.9,694.1 1076.9,696.8 1079.8,711.3 1082.8,732.1 1085.7,753.6 1088.7,770.0 1091.6,775.8 1094.6,761.3 1097.5,727.1 1100.5,682.9 1103.4,638.6 1106.4,603.7 1109.3,588.0 1112.3,591.6 1115.2,604.8 1118.2,622.5 1121.1,639.7 1124.1,651.3 1127.0,652.4 1130.0,642.1 1132.9,625.7 1135.9,606.7 1138.8,588.8 1141.8,575.8 1144.7,571.2 1147.7,575.0 1150.6,583.2 1153.6,593.5 1156.5,603.6 1159.5,611.3 1162.4,614.2 1165.4,613.6 1168.3,612.4 1171.3,611.0 1174.2,609.7 1177.2,608.9 1180.1,609.1 1183.1,610.0 1186.0,611.0 1189.0,612.1 1192.0,613.4 1194.9,614.8 1197.9,616.4 1200.8,618.5 1203.8,621.3 1206.7,624.3 1209.7,627.1 1212.6,629.3 1215.6,630.5 1218.5,630.9 1221.5,631.2 1224.4,631.4 1227.4,631.6 1230.3,631.8 1233.3,632.0 1236.2,632.3 1239.2,632.6 1242.1,632.9 1245.1,633.3 1248.0,633.7 1251.0,634.3 1253.9,639.4 1256.9,651.6 1259.8,667.3 1262.8,683.2 1265.7,695.9 1268.7,702.0 1271.6,697.2 1274.6,682.6 1277.5,663.3 1280.5,644.2 1283.4,630.3 1286.4,626.8 1289.3,633.2 1292.3,644.5 1295.2,658.9 1298.2,674.6 1301.1,689.5 1304.1,702.0 1307.0,711.8 1310.0,720.6 1312.9,728.8 1315.9,737.1 1318.8,746.1 1321.8,756.3 1324.7,770.7 1327.7,789.9 1330.6,810.8 1333.6,830.1 1336.6,844.9 1339.5,851.9 1342.5,848.2 1345.4,834.6 1348.4,814.0 1351.3,789.6 1354.3,764.1 1357.2,740.7 1360.2,715.1 1363.1,684.0 1366.1,651.5 1369.0,621.8 1372.0,599.0 1374.9,587.1 1377.9,593.7 1380.8,617.6 1383.8,650.5 1386.7,684.0 1389.7,709.7 1392.6,719.0 1395.6,713.4 1398.5,701.8 1401.5,687.4 1404.4,673.3 1407.4,662.5 1410.3,658.3 1413.3,659.5 1416.2,662.7 1419.2,667.6 1422.1,674.1 1425.1,681.8 1428.0,690.4 1431.0,703.5 1433.9,722.3 1436.9,743.0 1439.8,762.0 1442.8,775.6 1445.7,780.0 1448.7,774.8 1451.6,763.6 1454.6,748.4 1457.5,731.6 1460.5,715.1 1463.4,701.3 1466.4,689.4 1469.3,677.4 1472.3,665.6 1475.2,654.3 1478.2,643.7 1481.2,634.0 1484.1,624.8 1487.1,615.6 1490.0,607.0 1493.0,599.7 1495.9,594.1 1498.9,590.8 1501.8,591.1 1504.8,594.9 1507.7,600.6 1510.7,606.9 1513.6,612.1 1516.6,614.8 1519.5,613.5 1522.5,608.1 1525.4,599.5 1528.4,588.5 1531.3,576.1 1534.3,563.1 1537.2,541.4 1540.2,507.0 1543.1,467.0 1546.1,428.4 1549.0,398.4 1552.0,384.1 1554.9,391.2 1557.9,415.8 1560.8,450.0 1563.8,486.0 1566.7,515.7 1569.7,531.3 1572.6,526.5 1575.6,505.7 1578.5,477.1 1581.5,449.0 1584.4,429.8 1587.4,427.8 1590.3,449.9 1593.3,491.9 1596.2,544.6 1599.2,599.3 1602.1,646.9 1605.1,678.5 1608.0,698.9 1611.0,718.1 1613.9,735.1 1616.9,748.9 1619.8,758.5 1622.8,763.0 1625.7,764.2 1628.7,764.4 1631.7,763.3 1634.6,760.6 1637.6,756.0 1640.5,749.2 1643.5,739.2 1646.4,726.2 1649.4,711.8 1652.3,697.6 1655.3,685.2 1658.2,676.0 1661.2,669.2 1664.1,662.8 1667.1,657.3 1670.0,652.9 1673.0,649.9 1675.9,648.6 1678.9,648.8 1681.8,650.0 1684.8,652.1 1687.7,655.2 1690.7,659.2 1693.6,664.0 1696.6,670.3 1699.5,678.2 1702.5,687.2 1705.4,696.6 1708.4,705.9 1711.3,714.2 1714.3,722.1 1717.2,729.9 1720.2,737.0 1723.1,742.8 1726.1,746.5 1729.0,747.8 1732.0,737.2 1734.9,711.3 1737.9,677.7 1740.8,644.3 1743.8,618.6 1746.7,608.4 1749.7,610.3 1752.6,615.1 1755.6,622.0 1758.5,630.3 1761.5,639.2 1764.4,648.0 1767.4,656.5 1770.3,665.2 1773.3,674.1 1776.2,683.2 1779.2,692.7 1782.2,702.6"/>
<polyline stroke="#0040FF" stroke-width="2.45" points="153.2,442.9 156.2,443.5 159.1,444.2 162.1,444.9 165.0,445.7 168.0,446.5 170.9,447.3 173.9,448.1 176.8,449.0 179.8,450.0 182.7,451.0 185.7,452.1 188.6,453.1 191.6,454.5 194.5,456.4 197.5,458.7 200.4,461.3 203.4,464.0 206.3,466.8 209.3,474.4 212.2,489.2 215.2,507.6 218.1,525.8 221.1,540.1 224.0,546.8 227.0,530.0 229.9,485.6 232.9,427.3 235.8,369.0 238.8,324.5 241.7,307.8 244.7,315.2 247.6,331.4 250.6,351.9 253.5,372.7 256.5,389.5 259.4,398.1 262.4,401.1 265.3,404.0 268.3,406.8 271.2,409.2 274.2,411.3 277.1,412.9 280.1,414.3 283.0,415.6 286.0,416.9 288.9,418.2 291.9,419.4 294.8,420.5 297.8,421.5 300.8,422.7 303.7,423.7 306.7,424.7 309.6,425.5 312.6,426.0 315.5,426.4 318.5,426.6 321.4,426.8 324.4,427.0 327.3,427.2 330.3,427.5 333.2,427.8 336.2,428.1 339.1,428.4 342.1,428.7 345.0,429.0 348.0,429.3 350.9,429.4 353.9,429.5 356.8,429.5 359.8,429.4 362.7,429.3 365.7,429.3 368.6,429.1 371.6,428.7 374.5,428.2 377.5,427.7 380.4,427.1 383.4,426.5 386.3,425.5 389.3,423.6 392.2,421.0 395.2,418.1 398.1,414.9 401.1,411.7 404.0,401.2 407.0,379.6 409.9,352.5 412.9,325.8 415.8,305.1 418.8,296.1 421.7,320.6 424.7,383.7 427.6,466.1 430.6,548.6 433.5,611.8 436.5,636.4 439.4,632.5 442.4,624.3 445.3,613.8 448.3,603.2 451.3,594.6 454.2,590.1 457.2,587.9 460.1,585.5 463.1,583.2 466.0,581.6 469.0,581.0 471.9,582.0 474.9,584.6 477.8,588.2 480.8,592.7 483.7,597.7 486.7,603.1 489.6,608.5 492.6,615.1 495.5,623.5 498.5,632.5 501.4,640.8 504.4,647.2 507.3,650.7 510.3,650.5 513.2,647.5 516.2,642.3 519.1,635.7 522.1,628.5 525.0,621.4 528.0,614.1 530.9,605.9 533.9,597.2 536.8,588.5 539.8,580.1 542.7,572.6 545.7,565.7 548.6,559.3 551.6,553.6 554.5,548.8 557.5,545.1 560.4,542.7 563.4,544.1 566.3,550.7 569.3,561.4 572.2,575.0 575.2,590.3 578.1,606.0 581.1,628.5 584.0,660.8 587.0,697.0 589.9,731.2 592.9,757.5 595.8,770.0 598.8,771.8 601.8,770.5 604.7,766.8 607.7,761.3 610.6,754.8 613.6,747.9 616.5,739.7 619.5,729.6 622.4,719.0 625.4,709.1 628.3,701.1 631.3,696.5 634.2,700.5 637.2,714.5 640.1,733.6 643.1,752.9 646.0,767.8 649.0,773.4 651.9,767.6 654.9,753.7 657.8,735.3 660.8,715.7 663.7,698.4 666.7,686.7 669.6,684.5 672.6,690.3 675.5,700.3 678.5,710.3 681.4,716.4 684.4,714.5 687.3,695.1 690.3,657.7 693.2,612.0 696.2,567.5 699.1,533.8 702.1,520.5 705.0,522.4 708.0,527.0 710.9,533.1 713.9,539.2 716.8,544.4 719.8,547.2 722.7,548.6 725.7,550.1 728.6,551.2 731.6,551.3 734.5,549.9 737.5,546.4 740.4,538.9 743.4,526.6 746.4,511.1 749.3,494.1 752.3,477.1 755.2,461.8 758.2,448.2 761.1,434.9 764.1,421.8 767.0,408.3 770.0,394.3 772.9,379.4 775.9,359.2 778.8,332.3 781.8,303.1 784.7,276.2 787.7,256.1 790.6,247.2 793.6,257.6 796.5,287.0 799.5,326.9 802.4,369.2 805.4,405.5 808.3,427.6 811.3,439.7 814.2,451.2 817.2,461.2 820.1,468.8 823.1,473.2 826.0,473.5 829.0,469.5 831.9,462.7 834.9,454.9 837.8,447.8 840.8,443.2 843.7,442.9 846.7,446.9 849.6,453.6 852.6,461.8 855.5,470.6 858.5,478.7 861.4,485.2 864.4,489.5 867.3,492.6 870.3,495.0 873.2,497.5 876.2,500.8 879.1,505.6 882.1,514.1 885.0,526.5 888.0,540.5 890.9,553.6 893.9,563.4 896.9,567.6 899.8,566.5 902.8,563.0 905.7,558.0 908.7,552.5 911.6,547.5 914.6,544.0 917.5,542.2 920.5,541.5 923.4,541.9 926.4,543.3 929.3,545.8 932.3,549.4 935.2,562.9 938.2,590.5 941.1,624.8 944.1,658.6 947.0,684.5 950.0,695.1 952.9,691.3 955.9,681.1 958.8,667.7 961.8,654.4 964.7,644.5 967.7,641.2 970.6,642.4 973.6,643.9 976.5,645.7 979.5,647.7 982.4,649.9 985.4,652.4 988.3,654.9 991.3,657.5 994.2,660.2 997.2,663.0 1000.1,666.1 1003.1,669.4 1006.0,673.2 1009.0,677.8 1011.9,683.0 1014.9,688.7 1017.8,694.9 1020.8,701.4 1023.7,709.2 1026.7,718.6 1029.6,728.8 1032.6,738.9 1035.5,748.1 1038.5,755.4 1041.5,761.2 1044.4,766.4 1047.4,770.6 1050.3,773.4 1053.3,774.5 1056.2,773.6 1059.2,769.8 1062.1,763.3 1065.1,755.4 1068.0,747.2 1071.0,740.0 1073.9,735.0 1076.9,733.4 1079.8,734.8 1082.8,737.7 1085.7,740.7 1088.7,742.2 1091.6,740.8 1094.6,733.6 1097.5,720.9 1100.5,705.4 1103.4,690.1 1106.4,677.9 1109.3,671.5 1112.3,671.7 1115.2,675.5 1118.2,681.2 1121.1,686.7 1124.1,690.2 1127.0,689.8 1130.0,685.3 1132.9,678.7 1135.9,671.2 1138.8,663.8 1141.8,657.5 1144.7,653.5 1147.7,652.2 1150.6,652.8 1153.6,654.3 1156.5,655.8 1159.5,656.2 1162.4,654.5 1165.4,650.5 1168.3,644.9 1171.3,638.4 1174.2,632.0 1177.2,626.3 1180.1,622.2 1183.1,619.2 1186.0,616.4 1189.0,613.9 1192.0,612.0 1194.9,610.8 1197.9,610.6 1200.8,611.2 1203.8,612.4 1206.7,614.0 1209.7,615.9 1212.6,618.0 1215.6,620.1 1218.5,622.3 1221.5,625.0 1224.4,628.0 1227.4,631.3 1230.3,634.9 1233.3,638.9 1236.2,643.9 1239.2,650.5 1242.1,657.7 1245.1,664.8 1248.0,671.1 1251.0,675.9 1253.9,678.6 1256.9,679.8 1259.8,680.2 1262.8,680.6 1265.7,681.5 1268.7,683.8 1271.6,687.9 1274.6,693.4 1277.5,699.6 1280.5,705.7 1283.4,711.2 1286.4,715.2 1289.3,716.5 1292.3,714.9 1295.2,711.1 1298.2,705.8 1301.1,699.9 1304.1,694.0 1307.0,683.7 1310.0,666.4 1312.9,645.8 1315.9,625.5 1318.8,609.4 1321.8,601.0 1324.7,610.1 1327.7,637.8 1330.6,675.1 1333.6,712.8 1336.6,741.8 1339.5,752.9 1342.5,740.9 1345.4,712.2 1348.4,675.5 1351.3,639.7 1354.3,613.4 1357.2,605.4 1360.2,611.1 1363.1,619.6 1366.1,629.9 1369.0,641.1 1372.0,652.3 1374.9,662.7 1377.9,673.4 1380.8,685.5 1383.8,697.6 1386.7,708.3 1389.7,716.4 1392.6,720.3 1395.6,718.1 1398.5,710.1 1401.5,698.5 1404.4,685.6 1407.4,673.4 1410.3,664.1 1413.3,657.6 1416.2,652.1 1419.2,648.0 1422.1,645.6 1425.1,645.3 1428.0,647.4 1431.0,659.7 1433.9,685.2 1436.9,717.0 1439.8,748.1 1442.8,771.4 1445.7,780.0 1448.7,774.9 1451.6,763.7 1454.6,749.2 1457.5,734.0 1460.5,720.7 1463.4,712.2 1466.4,707.7 1469.3,704.3 1472.3,701.3 1475.2,698.3 1478.2,694.6 1481.2,689.7 1484.1,682.4 1487.1,673.2 1490.0,663.3 1493.0,654.3 1495.9,647.5 1498.9,644.5 1501.8,646.2 1504.8,651.6 1507.7,659.3 1510.7,667.5 1513.6,674.7 1516.6,679.4 1519.5,681.8 1522.5,683.1 1525.4,683.3 1528.4,682.2 1531.3,680.0 1534.3,676.4 1537.2,668.5 1540.2,655.3 1543.1,639.7 1546.1,624.8 1549.0,613.6 1552.0,609.3 1554.9,609.5 1557.9,609.9 1560.8,610.5 1563.8,611.2 1566.7,611.8 1569.7,612.2 1572.6,612.4 1575.6,612.4 1578.5,612.4 1581.5,612.4 1584.4,612.6 1587.4,612.9 1590.3,615.9 1593.3,623.3 1596.2,633.8 1599.2,646.2 1602.1,659.3 1605.1,672.0 1608.0,686.4 1611.0,703.9 1613.9,722.7 1616.9,740.5 1619.8,755.4 1622.8,765.2 1625.7,770.7 1628.7,773.9 1631.7,774.9 1634.6,773.9 1637.6,770.9 1640.5,766.0 1643.5,758.7 1646.4,749.2 1649.4,738.8 1652.3,728.5 1655.3,719.4 1658.2,712.8 1661.2,708.6 1664.1,705.9 1667.1,703.8 1670.0,701.8 1673.0,699.2 1675.9,695.3 1678.9,689.8 1681.8,683.3 1684.8,676.4 1687.7,669.7 1690.7,663.9 1693.6,659.6 1696.6,656.3 1699.5,653.5 1702.5,650.9 1705.4,648.8 1708.4,647.1 1711.3,645.7 1714.3,644.8 1717.2,644.2 1720.2,643.7 1723.1,643.2 1726.1,642.4 1729.0,641.3 1732.0,639.5 1734.9,637.0 1737.9,634.3 1740.8,631.9 1743.8,630.1 1746.7,629.5 1749.7,629.8 1752.6,630.5 1755.6,631.3 1758.5,632.3 1761.5,633.2 1764.4,634.1 1767.4,634.8 1770.3,635.5 1773.3,636.3 1776.2,637.0 1779.2,637.7 1782.2,638.4"/>
<polyline stroke="#8000FF" stroke-width="2.45" points="153.2,429.7 156.2,429.6 159.1,429.5 162.1,429.4 165.0,429.3 168.0,429.2 170.9,429.2 173.9,429.3 176.8,429.4 179.8,429.5 182.7,429.6 185.7,429.6 188.6,429.7 191.6,429.8 194.5,429.8 197.5,429.7 200.4,429.7 203.4,429.7 206.3,429.7 209.3,429.9 212.2,430.3 215.2,430.7 218.1,431.2 221.1,431.6 224.0,431.7 227.0,431.4 229.9,430.7 232.9,429.7 235.8,428.7 238.8,427.9 241.7,427.3 244.7,427.1 247.6,427.0 250.6,427.1 253.5,427.1 256.5,427.1 259.4,426.8 262.4,426.3 265.3,425.7 268.3,425.0 271.2,424.3 274.2,423.5 277.1,422.9 280.1,422.3 283.0,421.7 286.0,421.2 288.9,420.6 291.9,420.1 294.8,419.5 297.8,418.9 300.8,418.3 303.7,417.7 306.7,417.0 309.6,416.3 312.6,415.6 315.5,414.8 318.5,413.8 321.4,412.7 324.4,411.6 327.3,410.4 330.3,409.2 333.2,407.9 336.2,406.5 339.1,404.8 342.1,403.1 345.0,401.3 348.0,399.4 350.9,397.3 353.9,394.6 356.8,391.5 359.8,388.1 362.7,384.6 365.7,380.9 368.6,376.3 371.6,370.0 374.5,362.4 377.5,353.8 380.4,344.8 383.4,335.7 386.3,319.8 389.3,294.3 392.2,265.1 395.2,237.9 398.1,218.8 401.1,213.5 404.0,228.9 407.0,263.5 409.9,311.0 412.9,364.6 415.8,417.9 418.8,464.3 421.7,510.1 424.7,561.7 427.6,612.9 430.6,657.8 433.5,690.3 436.5,704.2 439.4,700.0 442.4,685.0 445.3,663.8 448.3,641.3 451.3,621.9 454.2,610.3 457.2,604.0 460.1,597.5 463.1,591.4 466.0,586.2 469.0,582.4 471.9,580.6 474.9,580.1 477.8,580.1 480.8,580.6 483.7,581.7 486.7,583.3 489.6,585.7 492.6,589.9 495.5,596.2 498.5,603.3 501.4,610.1 504.4,615.1 507.3,617.3 510.3,615.9 513.2,611.8 516.2,605.9 519.1,598.7 522.1,591.3 525.0,584.2 528.0,577.0 530.9,568.8 533.9,560.4 536.8,552.2 539.8,544.8 542.7,539.0 545.7,534.5 548.6,530.8 551.6,527.7 554.5,525.0 557.5,522.5 560.4,520.1 563.4,518.5 566.3,518.5 569.3,519.9 572.2,522.5 575.2,526.3 578.1,531.0 581.1,551.6 584.0,595.4 587.0,651.0 589.9,706.8 592.9,751.5 595.8,773.4 598.8,779.2 601.8,783.2 604.7,785.1 607.7,784.9 610.6,782.6 613.6,778.0 616.5,771.6 619.5,764.4 622.4,756.8 625.4,749.3 628.3,742.6 631.3,737.0 634.2,733.1 637.2,730.8 640.1,730.0 643.1,730.5 646.0,732.0 649.0,734.4 651.9,743.1 654.9,760.4 657.8,781.7 660.8,802.7 663.7,818.7 666.7,825.2 669.6,819.7 672.6,804.6 675.5,782.8 678.5,756.9 681.4,729.8 684.4,704.4 687.3,676.7 690.3,643.8 693.2,609.5 696.2,577.9 699.1,552.9 702.1,538.4 705.0,533.9 708.0,534.4 710.9,537.5 713.9,540.8 716.8,541.9 719.8,538.4 722.7,531.4 725.7,523.5 728.6,515.1 731.6,506.3 734.5,497.5 737.5,488.8 740.4,479.0 743.4,467.4 746.4,455.3 749.3,444.2 752.3,435.2 755.2,429.8 758.2,446.6 761.1,493.6 764.1,555.8 767.0,618.5 770.0,666.7 772.9,685.6 775.9,676.5 778.8,655.0 781.8,627.3 784.7,599.6 787.7,578.1 790.6,569.0 793.6,568.6 796.5,568.7 799.5,569.4 802.4,570.7 805.4,572.5 808.3,574.9 811.3,578.8 814.2,584.6 817.2,591.0 820.1,597.0 823.1,601.5 826.0,603.3 829.0,595.1 831.9,574.0 834.9,545.5 837.8,515.1 840.8,488.3 843.7,470.6 846.7,460.2 849.6,452.1 852.6,446.6 855.5,444.4 858.5,445.9 861.4,451.6 864.4,464.5 867.3,484.4 870.3,507.2 873.2,529.0 876.2,545.6 879.1,553.0 882.1,554.1 885.0,554.7 888.0,554.8 890.9,554.4 893.9,553.5 896.9,552.3 899.8,550.4 902.8,548.0 905.7,545.4 908.7,543.2 911.6,541.7 914.6,541.3 917.5,542.9 920.5,546.3 923.4,550.9 926.4,556.1 929.3,561.1 932.3,565.4 935.2,568.9 938.2,572.4 941.1,575.7 944.1,579.1 947.0,582.5 950.0,586.0 952.9,589.9 955.9,594.3 958.8,598.7 961.8,602.8 964.7,606.4 967.7,609.1 970.6,610.9 973.6,612.0 976.5,612.8 979.5,613.5 982.4,614.4 985.4,615.7 988.3,617.3 991.3,619.0 994.2,620.9 997.2,623.1 1000.1,625.4 1003.1,628.1 1006.0,631.3 1009.0,635.2 1011.9,639.6 1014.9,644.2 1017.8,648.9 1020.8,653.5 1023.7,657.8 1026.7,662.3 1029.6,666.8 1032.6,671.4 1035.5,676.1 1038.5,681.0 1041.5,686.6 1044.4,693.0 1047.4,699.8 1050.3,706.4 1053.3,712.5 1056.2,717.5 1059.2,719.1 1062.1,716.1 1065.1,709.7 1068.0,701.2 1071.0,691.7 1073.9,682.5 1076.9,664.4 1079.8,632.6 1082.8,594.6 1085.7,557.7 1088.7,529.3 1091.6,516.9 1094.6,534.4 1097.5,581.2 1100.5,642.8 1103.4,704.8 1106.4,752.7 1109.3,772.1 1112.3,770.9 1115.2,767.0 1118.2,761.1 1121.1,753.8 1124.1,745.6 1127.0,737.1 1130.0,728.9 1132.9,720.6 1135.9,712.0 1138.8,702.6 1141.8,692.2 1144.7,680.3 1147.7,661.5 1150.6,634.1 1153.6,603.2 1156.5,574.0 1159.5,551.6 1162.4,541.3 1165.4,541.6 1168.3,546.0 1171.3,552.5 1174.2,558.8 1177.2,562.9 1180.1,562.5 1183.1,558.3 1186.0,552.9 1189.0,547.1 1192.0,541.5 1194.9,536.9 1197.9,534.1 1200.8,532.9 1203.8,532.7 1206.7,533.5 1209.7,535.1 1212.6,537.5 1215.6,540.6 1218.5,545.1 1221.5,551.4 1224.4,558.5 1227.4,565.6 1230.3,571.8 1233.3,576.3 1236.2,579.3 1239.2,581.5 1242.1,582.8 1245.1,583.3 1248.0,583.0 1251.0,581.7 1253.9,578.6 1256.9,573.3 1259.8,566.7 1262.8,560.1 1265.7,554.4 1268.7,550.7 1271.6,550.4 1274.6,553.6 1277.5,559.7 1280.5,567.8 1283.4,577.2 1286.4,587.1 1289.3,600.9 1292.3,620.4 1295.2,642.7 1298.2,665.0 1301.1,684.2 1304.1,697.5 1307.0,704.8 1310.0,709.0 1312.9,711.3 1315.9,713.4 1318.8,716.4 1321.8,722.0 1324.7,731.8 1327.7,745.2 1330.6,759.8 1333.6,773.3 1336.6,783.4 1339.5,787.8 1342.5,783.7 1345.4,771.5 1348.4,753.7 1351.3,732.7 1354.3,711.1 1357.2,691.1 1360.2,670.1 1363.1,645.4 1366.1,619.7 1369.0,595.8 1372.0,576.2 1374.9,563.8 1377.9,566.7 1380.8,586.0 1383.8,614.0 1386.7,642.9 1389.7,664.9 1392.6,672.2 1395.6,659.8 1398.5,632.9 1401.5,598.5 1404.4,563.8 1407.4,536.0 1410.3,522.3 1413.3,522.6 1416.2,531.0 1419.2,545.3 1422.1,563.3 1425.1,582.8 1428.0,601.7 1431.0,626.8 1433.9,662.3 1436.9,702.1 1439.8,740.1 1442.8,770.5 1445.7,787.1 1448.7,760.3 1451.6,681.5 1454.6,576.4 1457.5,470.2 1460.5,388.6 1463.4,357.1 1466.4,383.9 1469.3,448.0 1472.3,530.2 1475.2,611.6 1478.2,673.3 1481.2,696.2 1484.1,687.9 1487.1,671.7 1490.0,652.2 1493.0,634.0 1495.9,621.7 1498.9,619.9 1501.8,626.2 1504.8,634.1 1507.7,642.9 1510.7,651.4 1513.6,658.8 1516.6,664.0 1519.5,666.9 1522.5,667.9 1525.4,667.2 1528.4,664.9 1531.3,661.0 1534.3,655.7 1537.2,640.9 1540.2,613.5 1543.1,580.2 1546.1,548.2 1549.0,524.5 1552.0,516.0 1554.9,523.5 1557.9,540.3 1560.8,562.6 1563.8,586.4 1566.7,607.9 1569.7,623.1 1572.6,632.8 1575.6,640.8 1578.5,648.0 1581.5,655.3 1584.4,663.5 1587.4,673.4 1590.3,685.4 1593.3,698.6 1596.2,712.4 1599.2,726.3 1602.1,739.5 1605.1,751.4 1608.0,763.1 1611.0,775.3 1613.9,786.6 1616.9,795.6 1619.8,801.0 1622.8,801.6 1625.7,796.5 1628.7,786.8 1631.7,773.9 1634.6,759.3 1637.6,744.5 1640.5,731.0 1643.5,717.2 1646.4,701.7 1649.4,685.9 1652.3,671.6 1655.3,660.1 1658.2,653.0 1661.2,650.9 1664.1,652.1 1667.1,655.0 1670.0,658.2 1673.0,660.0 1675.9,658.8 1678.9,654.5 1681.8,648.3 1684.8,641.5 1687.7,635.0 1690.7,630.0 1693.6,627.5 1696.6,628.1 1699.5,631.3 1702.5,636.4 1705.4,642.5 1708.4,649.0 1711.3,655.2 1714.3,662.7 1717.2,672.8 1720.2,683.7 1723.1,694.0 1726.1,702.0 1729.0,706.2 1732.0,703.9 1734.9,694.9 1737.9,680.9 1740.8,664.1 1743.8,646.1 1746.7,629.0 1749.7,611.2 1752.6,590.9 1755.6,569.6 1758.5,548.6 1761.5,529.3 1764.4,513.1 1767.4,499.1 1770.3,485.9 1773.3,473.8 1776.2,463.2 1779.2,454.7 1782.2,448.5"/>
<polyline stroke="#FF00BF" stroke-width="2.45" points="153.2,428.3 156.2,427.9 159.1,427.5 162.1,426.9 165.0,426.2 168.0,425.5 170.9,424.8 173.9,424.1 176.8,423.1 179.8,422.0 182.7,420.7 185.7,419.4 188.6,418.0 191.6,415.2 194.5,410.4 197.5,404.7 200.4,399.3 203.4,395.4 206.3,394.1 209.3,397.7 212.2,406.2 215.2,417.9 218.1,430.8 221.1,443.1 224.0,452.9 227.0,461.4 229.9,470.4 232.9,479.0 235.8,486.2 238.8,491.0 241.7,492.4 244.7,490.4 247.6,486.2 250.6,480.9 253.5,475.4 256.5,470.8 259.4,468.2 262.4,467.0 265.3,465.7 268.3,464.6 271.2,463.6 274.2,462.9 277.1,462.4 280.1,462.0 283.0,461.7 286.0,461.4 288.9,461.1 291.9,460.7 294.8,460.4 297.8,460.1 300.8,459.8 303.7,459.5 306.7,459.1 309.6,458.8 312.6,458.5 315.5,458.1 318.5,457.6 321.4,457.2 324.4,456.8 327.3,456.5 330.3,456.4 333.2,456.4 336.2,456.4 339.1,456.4 342.1,456.4 345.0,456.5 348.0,456.5 350.9,456.6 353.9,456.6 356.8,456.6 359.8,456.7 362.7,456.7 365.7,456.8 368.6,456.7 371.6,456.5 374.5,456.1 377.5,455.7 380.4,455.3 383.4,454.9 386.3,454.3 389.3,453.3 392.2,452.1 395.2,450.7 398.1,449.2 401.1,447.8 404.0,444.1 407.0,437.0 409.9,428.3 412.9,419.7 415.8,413.0 418.8,410.0 421.7,423.3 424.7,457.5 427.6,502.2 430.6,546.8 433.5,581.0 436.5,594.4 439.4,592.5 442.4,588.3 445.3,583.0 448.3,577.6 451.3,573.0 454.2,570.4 457.2,568.9 460.1,567.2 463.1,565.6 466.0,564.5 469.0,564.0 471.9,564.5 474.9,566.5 477.8,569.7 480.8,574.0 483.7,579.0 486.7,584.2 489.6,589.3 492.6,595.5 495.5,603.3 498.5,611.7 501.4,619.5 504.4,625.8 507.3,629.3 510.3,629.2 513.2,625.8 516.2,620.1 519.1,612.7 522.1,604.6 525.0,596.6 528.0,588.1 530.9,578.3 533.9,567.8 536.8,557.2 539.8,547.2 542.7,538.3 545.7,530.5 548.6,523.4 551.6,516.9 554.5,511.1 557.5,506.1 560.4,501.9 563.4,500.7 566.3,504.1 569.3,511.3 572.2,521.4 575.2,533.6 578.1,547.1 581.1,574.1 584.0,620.7 587.0,676.3 589.9,730.1 592.9,771.6 595.8,790.2 598.8,792.5 601.8,792.5 604.7,790.7 607.7,787.3 610.6,782.9 613.6,777.8 616.5,772.2 619.5,766.3 622.4,760.1 625.4,753.5 628.3,746.5 631.3,739.2 634.2,727.7 637.2,710.4 640.1,690.5 643.1,671.2 646.0,655.8 649.0,647.4 651.9,661.1 654.9,701.1 657.8,754.1 660.8,807.0 663.7,846.5 666.7,859.4 669.6,846.0 672.6,819.0 675.5,784.4 678.5,747.8 681.4,714.9 684.4,691.6 687.3,675.3 690.3,659.8 693.2,645.1 696.2,631.7 699.1,619.6 702.1,609.1 705.0,600.4 708.0,593.1 710.9,586.4 713.9,579.5 716.8,571.8 719.8,562.5 722.7,551.0 725.7,538.0 728.6,524.1 731.6,510.0 734.5,496.5 737.5,484.4 740.4,474.0 743.4,465.2 746.4,458.5 749.3,454.2 752.3,452.5 755.2,453.8 758.2,470.8 761.1,508.7 764.1,556.7 767.0,604.1 770.0,640.1 772.9,653.9 775.9,641.2 778.8,610.6 781.8,570.8 784.7,530.5 787.7,498.6 790.6,483.7 793.6,480.7 796.5,478.6 799.5,477.6 802.4,477.8 805.4,479.3 808.3,482.2 811.3,487.2 814.2,493.8 817.2,501.0 820.1,507.6 823.1,512.4 826.0,514.3 829.0,510.4 831.9,500.5 834.9,487.3 837.8,473.6 840.8,462.3 843.7,456.0 846.7,454.8 849.6,456.0 852.6,458.6 855.5,461.2 858.5,463.0 861.4,462.6 864.4,459.6 867.3,454.8 870.3,448.6 873.2,441.4 876.2,433.7 879.1,426.1 882.1,413.6 885.0,393.9 888.0,371.0 890.9,349.1 893.9,332.6 896.9,325.5 899.8,340.9 902.8,381.2 905.7,434.8 908.7,490.0 911.6,535.3 914.6,558.8 917.5,567.4 920.5,575.1 923.4,581.5 926.4,586.3 929.3,589.1 932.3,589.4 935.2,588.5 938.2,587.5 941.1,586.3 944.1,585.0 947.0,583.4 950.0,581.4 952.9,578.8 955.9,575.7 958.8,572.4 961.8,569.3 964.7,566.9 967.7,565.4 970.6,565.2 973.6,566.0 976.5,567.6 979.5,569.6 982.4,571.9 985.4,574.1 988.3,576.5 991.3,579.2 994.2,582.3 997.2,585.9 1000.1,589.7 1003.1,593.8 1006.0,599.3 1009.0,606.7 1011.9,614.9 1014.9,623.2 1017.8,630.5 1020.8,636.0 1023.7,637.4 1026.7,634.5 1029.6,629.4 1032.6,624.3 1035.5,621.2 1038.5,622.2 1041.5,629.7 1044.4,642.7 1047.4,658.8 1050.3,675.6 1053.3,690.4 1056.2,700.7 1059.2,707.3 1062.1,712.7 1065.1,716.7 1068.0,719.5 1071.0,720.9 1073.9,721.1 1076.9,718.8 1079.8,713.4 1082.8,705.3 1085.7,695.4 1088.7,684.2 1091.6,672.3 1094.6,652.6 1097.5,621.9 1100.5,586.4 1103.4,552.4 1106.4,526.2 1109.3,514.0 1112.3,522.6 1115.2,549.0 1118.2,584.6 1121.1,620.7 1124.1,648.8 1127.0,660.4 1130.0,658.1 1132.9,651.0 1135.9,640.3 1138.8,627.0 1141.8,612.1 1144.7,596.7 1147.7,578.0 1150.6,554.5 1153.6,529.6 1156.5,506.8 1159.5,489.3 1162.4,480.5 1165.4,486.0 1168.3,504.6 1171.3,529.9 1174.2,555.2 1177.2,574.1 1180.1,580.0 1183.1,574.8 1186.0,566.0 1189.0,555.2 1192.0,543.9 1194.9,533.8 1197.9,526.4 1200.8,520.7 1203.8,515.0 1206.7,510.2 1209.7,506.8 1212.6,505.5 1215.6,507.0 1218.5,514.0 1221.5,526.8 1224.4,542.7 1227.4,558.8 1230.3,572.4 1233.3,580.7 1236.2,585.1 1239.2,589.0 1242.1,592.4 1245.1,595.3 1248.0,597.7 1251.0,599.6 1253.9,601.1 1256.9,602.2 1259.8,603.1 1262.8,604.0 1265.7,604.9 1268.7,606.1 1271.6,609.1 1274.6,614.5 1277.5,621.2 1280.5,628.0 1283.4,633.6 1286.4,637.0 1289.3,620.5 1292.3,576.4 1295.2,518.9 1298.2,461.7 1301.1,418.8 1304.1,404.1 1307.0,423.5 1310.0,466.6 1312.9,523.6 1315.9,584.6 1318.8,639.6 1321.8,678.7 1324.7,707.6 1327.7,736.6 1330.6,762.7 1333.6,783.1 1336.6,794.9 1339.5,795.1 1342.5,781.9 1345.4,758.8 1348.4,730.9 1351.3,703.1 1354.3,680.4 1357.2,667.8 1360.2,665.9 1363.1,669.8 1366.1,676.7 1369.0,683.3 1372.0,686.7 1374.9,683.8 1377.9,672.3 1380.8,654.5 1383.8,634.1 1386.7,615.1 1389.7,601.3 1392.6,596.6 1395.6,600.1 1398.5,607.1 1401.5,616.3 1404.4,626.5 1407.4,636.0 1410.3,643.7 1413.3,648.7 1416.2,651.7 1419.2,654.0 1422.1,656.6 1425.1,660.5 1428.0,667.1 1431.0,684.3 1433.9,715.1 1436.9,752.2 1439.8,788.7 1442.8,817.2 1445.7,830.8 1448.7,832.0 1451.6,828.8 1454.6,822.2 1457.5,813.0 1460.5,802.2 1463.4,790.7 1466.4,777.4 1469.3,761.6 1472.3,745.1 1475.2,729.6 1478.2,716.9 1481.2,708.6 1484.1,704.5 1487.1,702.7 1490.0,702.0 1493.0,701.5 1495.9,700.1 1498.9,696.9 1501.8,691.7 1504.8,685.2 1507.7,678.4 1510.7,672.0 1513.6,666.7 1516.6,663.4 1519.5,662.9 1522.5,664.6 1525.4,667.5 1528.4,670.4 1531.3,672.0 1534.3,671.3 1537.2,668.3 1540.2,664.0 1543.1,659.1 1546.1,654.0 1549.0,649.1 1552.0,645.0 1554.9,641.2 1557.9,637.3 1560.8,633.7 1563.8,630.8 1566.7,629.1 1569.7,629.0 1572.6,630.9 1575.6,634.6 1578.5,639.4 1581.5,644.8 1584.4,650.0 1587.4,654.5 1590.3,657.8 1593.3,660.2 1596.2,662.2 1599.2,664.2 1602.1,666.6 1605.1,669.8 1608.0,681.3 1611.0,704.4 1613.9,733.1 1616.9,761.4 1619.8,783.3 1622.8,792.9 1625.7,776.5 1628.7,733.2 1631.7,676.2 1634.6,618.8 1637.6,574.1 1640.5,555.4 1643.5,556.2 1646.4,560.8 1649.4,568.5 1652.3,578.4 1655.3,589.9 1658.2,602.0 1661.2,616.3 1664.1,633.2 1667.1,650.6 1670.0,666.3 1673.0,678.3 1675.9,684.3 1678.9,686.1 1681.8,686.9 1684.8,686.7 1687.7,685.9 1690.7,684.5 1693.6,682.9 1696.6,681.0 1699.5,678.9 1702.5,676.4 1705.4,673.6 1708.4,670.4 1711.3,666.9 1714.3,660.1 1717.2,649.0 1720.2,635.9 1723.1,623.3 1726.1,613.6 1729.0,609.3 1732.0,613.6 1734.9,625.7 1737.9,641.7 1740.8,657.7 1743.8,669.8 1746.7,674.1 1749.7,672.6 1752.6,670.1 1755.6,667.0 1758.5,663.7 1761.5,660.9 1764.4,658.8 1767.4,657.3 1770.3,655.7 1773.3,654.1 1776.2,652.7 1779.2,651.6 1782.2,650.8"/>
<polyline stroke="#000000" stroke-width="4.0" points="153.2,438.5 156.2,438.8 159.1,439.2 162.1,439.5 165.0,439.8 168.0,440.1 170.9,440.5 173.9,440.8 176.8,441.1 179.8,441.4 182.7,441.8 185.7,442.1 188.6,442.4 191.6,442.7 194.5,443.1 197.5,443.4 200.4,443.8 203.4,444.3 206.3,444.9 209.3,451.8 212.2,468.2 215.2,489.2 218.1,510.0 221.1,526.0 224.0,532.2 227.0,526.7 229.9,513.4 232.9,495.9 235.8,478.0 238.8,463.5 241.7,456.1 244.7,453.5 247.6,451.0 250.6,448.8 253.5,447.2 256.5,446.2 259.4,446.1 262.4,446.4 265.3,446.7 268.3,447.1 271.2,447.5 274.2,448.0 277.1,448.5 280.1,449.1 283.0,449.7 286.0,450.3 288.9,450.9 291.9,451.5 294.8,452.2 297.8,452.8 300.8,453.4 303.7,454.1 306.7,454.8 309.6,455.4 312.6,456.1 315.5,456.7 318.5,457.3 321.4,458.0 324.4,458.6 327.3,459.3 330.3,460.0 333.2,460.7 336.2,461.5 339.1,462.3 342.1,463.1 345.0,464.0 348.0,464.8 350.9,465.7 353.9,466.7 356.8,467.6 359.8,468.6 362.7,469.7 365.7,470.7 368.6,471.8 371.6,472.9 374.5,474.1 377.5,475.4 380.4,476.7 383.4,478.0 386.3,479.5 389.3,481.1 392.2,482.9 395.2,484.8 398.1,486.8 401.1,488.7 404.0,491.0 407.0,494.0 409.9,497.8 412.9,502.3 415.8,507.5 418.8,513.5 421.7,529.5 424.7,559.7 427.6,596.4 430.6,632.1 433.5,659.1 436.5,670.0 439.4,664.0 442.4,648.6 445.3,628.2 448.3,607.1 451.3,589.8 454.2,580.6 457.2,576.8 460.1,573.3 463.1,570.5 466.0,568.9 469.0,568.9 471.9,571.1 474.9,575.0 477.8,579.8 480.8,585.2 483.7,591.0 486.7,597.2 489.6,603.4 492.6,610.8 495.5,619.8 498.5,629.2 501.4,637.8 504.4,644.5 507.3,648.1 510.3,648.2 513.2,645.8 516.2,641.4 519.1,635.8 522.1,629.5 525.0,623.5 528.0,617.0 530.9,609.5 533.9,601.7 536.8,594.0 539.8,587.0 542.7,581.3 545.7,577.0 548.6,573.8 551.6,571.4 554.5,569.8 557.5,568.8 560.4,568.2 563.4,569.3 566.3,573.0 569.3,579.0 572.2,586.8 575.2,596.0 578.1,606.0 581.1,625.0 584.0,656.7 587.0,693.7 589.9,728.9 592.9,755.0 595.8,764.7 598.8,762.0 601.8,756.5 604.7,749.3 607.7,741.5 610.6,734.1 613.6,728.3 616.5,723.2 619.5,718.0 622.4,712.8 625.4,708.0 628.3,704.1 631.3,701.3 634.2,700.9 637.2,703.4 640.1,708.0 643.1,713.9 646.0,720.5 649.0,726.8 651.9,737.1 654.9,753.7 657.8,772.7 660.8,790.4 663.7,803.1 666.7,806.9 669.6,799.2 672.6,781.9 675.5,758.5 678.5,732.2 681.4,706.6 684.4,685.1 687.3,665.2 690.3,643.6 693.2,622.5 696.2,604.0 699.1,590.1 702.1,582.9 705.0,582.4 708.0,585.8 710.9,591.0 713.9,596.2 716.8,599.2 719.8,598.2 722.7,594.0 725.7,589.2 728.6,583.9 731.6,578.4 734.5,572.9 737.5,567.6 740.4,561.9 743.4,555.5 746.4,549.1 749.3,543.1 752.3,538.1 755.2,534.8 758.2,544.8 761.1,573.4 764.1,611.5 767.0,649.9 770.0,679.3 772.9,690.7 775.9,679.4 778.8,652.1 781.8,616.6 784.7,580.6 787.7,552.0 790.6,538.4 793.6,535.7 796.5,534.5 799.5,534.7 802.4,536.4 805.4,539.6 808.3,544.3 811.3,551.2 814.2,560.1 817.2,569.7 820.1,578.4 823.1,584.7 826.0,587.3 829.0,584.0 831.9,575.6 834.9,564.6 837.8,553.4 840.8,544.6 843.7,540.6 846.7,540.0 849.6,539.7 852.6,539.6 855.5,539.7 858.5,540.0 861.4,540.6 864.4,541.3 867.3,542.1 870.3,542.9 873.2,543.9 876.2,545.0 879.1,546.4 882.1,548.4 885.0,551.0 888.0,554.1 890.9,557.3 893.9,560.4 896.9,563.2 899.8,565.6 902.8,567.7 905.7,569.7 908.7,571.7 911.6,573.9 914.6,576.3 917.5,579.3 920.5,582.7 923.4,586.7 926.4,591.0 929.3,595.6 932.3,600.4 935.2,606.9 938.2,615.6 941.1,625.1 944.1,633.9 947.0,640.6 950.0,643.7 952.9,642.7 955.9,638.7 958.8,633.2 961.8,627.7 964.7,623.6 967.7,622.2 970.6,623.1 973.6,624.5 976.5,626.2 979.5,628.3 982.4,630.6 985.4,633.0 988.3,635.6 991.3,638.4 994.2,641.4 997.2,644.6 1000.1,648.0 1003.1,651.6 1006.0,655.6 1009.0,660.2 1011.9,665.3 1014.9,670.9 1017.8,676.9 1020.8,683.2 1023.7,690.6 1026.7,699.3 1029.6,708.7 1032.6,718.1 1035.5,726.8 1038.5,734.2 1041.5,741.0 1044.4,747.8 1047.4,753.9 1050.3,758.7 1053.3,761.3 1056.2,761.2 1059.2,758.2 1062.1,753.3 1065.1,747.2 1068.0,740.7 1071.0,734.4 1073.9,729.1 1076.9,724.5 1079.8,719.7 1082.8,715.0 1085.7,710.8 1088.7,707.4 1091.6,705.1 1094.6,704.1 1097.5,704.3 1100.5,705.0 1103.4,705.7 1106.4,706.0 1109.3,705.1 1112.3,702.9 1115.2,699.8 1118.2,696.2 1121.1,692.6 1124.1,689.3 1127.0,686.9 1130.0,686.3 1132.9,688.0 1135.9,690.8 1138.8,693.7 1141.8,695.7 1144.7,695.6 1147.7,690.7 1150.6,680.5 1153.6,667.8 1156.5,655.2 1159.5,645.3 1162.4,640.7 1165.4,640.6 1168.3,641.7 1171.3,643.5 1174.2,645.3 1177.2,646.4 1180.1,646.2 1183.1,644.9 1186.0,643.3 1189.0,641.5 1192.0,639.4 1194.9,637.1 1197.9,634.5 1200.8,630.8 1203.8,625.7 1206.7,620.0 1209.7,614.7 1212.6,610.5 1215.6,608.4 1218.5,608.5 1221.5,610.0 1224.4,612.6 1227.4,615.8 1230.3,619.4 1233.3,623.0 1236.2,626.8 1239.2,631.2 1242.1,635.8 1245.1,640.3 1248.0,644.3 1251.0,647.5 1253.9,649.4 1256.9,649.9 1259.8,649.9 1262.8,649.8 1265.7,650.5 1268.7,652.5 1271.6,655.9 1274.6,660.3 1277.5,665.3 1280.5,670.5 1283.4,675.6 1286.4,680.2 1289.3,684.4 1292.3,688.6 1295.2,692.6 1298.2,696.6 1301.1,700.5 1304.1,704.2 1307.0,707.6 1310.0,710.4 1312.9,712.9 1315.9,715.5 1318.8,718.3 1321.8,721.7 1324.7,728.5 1327.7,739.6 1330.6,752.5 1333.6,765.0 1336.6,774.4 1339.5,778.3 1342.5,772.0 1345.4,755.3 1348.4,733.1 1351.3,710.0 1354.3,690.8 1357.2,680.2 1360.2,675.7 1363.1,671.9 1366.1,669.1 1369.0,667.6 1372.0,667.5 1374.9,669.2 1377.9,673.0 1380.8,678.3 1383.8,684.1 1386.7,689.4 1389.7,693.3 1392.6,694.8 1395.6,693.6 1398.5,690.7 1401.5,686.8 1404.4,682.6 1407.4,678.7 1410.3,675.8 1413.3,674.2 1416.2,673.6 1419.2,674.0 1422.1,675.3 1425.1,677.4 1428.0,680.2 1431.0,689.5 1433.9,707.8 1436.9,730.2 1439.8,752.1 1442.8,768.5 1445.7,774.7 1448.7,772.2 1451.6,767.0 1454.6,760.1 1457.5,752.8 1460.5,746.4 1463.4,742.1 1466.4,739.3 1469.3,736.5 1472.3,733.8 1475.2,731.3 1478.2,728.9 1481.2,726.8 1484.1,724.8 1487.1,722.7 1490.0,720.7 1493.0,718.9 1495.9,717.5 1498.9,716.6 1501.8,716.6 1504.8,717.3 1507.7,718.6 1510.7,719.8 1513.6,720.8 1516.6,721.0 1519.5,720.2 1522.5,718.6 1525.4,716.3 1528.4,713.7 1531.3,710.7 1534.3,707.8 1537.2,703.8 1540.2,698.3 1543.1,692.3 1546.1,686.9 1549.0,682.9 1552.0,681.4 1554.9,682.2 1557.9,684.0 1560.8,686.6 1563.8,689.6 1566.7,692.6 1569.7,695.3 1572.6,697.8 1575.6,700.6 1578.5,703.3 1581.5,706.0 1584.4,708.4 1587.4,710.6 1590.3,711.1 1593.3,709.4 1596.2,706.4 1599.2,703.3 1602.1,700.9 1605.1,700.4 1608.0,705.5 1611.0,717.1 1613.9,731.9 1616.9,746.3 1619.8,756.9 1622.8,760.1 1625.7,757.0 1628.7,751.1 1631.7,743.3 1634.6,734.6 1637.6,725.8 1640.5,717.9 1643.5,709.9 1646.4,700.9 1649.4,692.0 1652.3,683.8 1655.3,677.3 1658.2,673.4 1661.2,671.9 1664.1,671.9 1667.1,673.1 1670.0,675.1 1673.0,677.8 1675.9,680.7 1678.9,684.6 1681.8,689.7 1684.8,695.1 1687.7,700.1 1690.7,703.6 1693.6,704.8 1696.6,703.9 1699.5,702.2 1702.5,700.0 1705.4,697.5 1708.4,695.1 1711.3,693.1 1714.3,691.4 1717.2,689.7 1720.2,688.1 1723.1,686.5 1726.1,685.0 1729.0,683.6 1732.0,682.7 1734.9,682.4 1737.9,682.4 1740.8,682.3 1743.8,681.9 1746.7,680.7 1749.7,677.8 1752.6,673.1 1755.6,667.2 1758.5,661.1 1761.5,655.3 1764.4,650.8 1767.4,647.2 1770.3,643.7 1773.3,640.4 1776.2,637.5 1779.2,635.1 1782.2,633.3"/>
<g fill="#FFBF00" stroke="none">
<circle cx="153.2" cy="447.5" r="6.5"/><circle cx="170.9" cy="453.1" r="6.5"/><circle cx="188.6" cy="460.7" r="6.5"/><circle cx="206.3" cy="479.0" r="6.5"/><circle cx="224.0" cy="569.7" r="6.5"/><circle cx="241.7" cy="97.1" r="6.5"/><circle cx="259.4" cy="388.7" r="6.5"/><circle cx="277.1" cy="413.1" r="6.5"/><circle cx="294.8" cy="426.3" r="6.5"/><circle cx="312.6" cy="437.0" r="6.5"/><circle cx="330.3" cy="442.4" r="6.5"/><circle cx="348.0" cy="448.8" r="6.5"/><circle cx="365.7" cy="454.6" r="6.5"/><circle cx="383.4" cy="463.1" r="6.5"/><circle cx="401.1" cy="468.2" r="6.5"/><circle cx="418.8" cy="475.1" r="6.5"/><circle cx="436.5" cy="227.3" r="6.5"/><circle cx="454.2" cy="543.4" r="6.5"/><circle cx="471.9" cy="560.9" r="6.5"/><circle cx="489.6" cy="604.0" r="6.5"/><circle cx="507.3" cy="654.7" r="6.5"/><circle cx="525.0" cy="635.5" r="6.5"/><circle cx="542.7" cy="600.9" r="6.5"/><circle cx="560.4" cy="595.9" r="6.5"/><circle cx="578.1" cy="627.3" r="6.5"/><circle cx="595.8" cy="742.5" r="6.5"/><circle cx="613.6" cy="614.3" r="6.5"/><circle cx="631.3" cy="672.2" r="6.5"/><circle cx="649.0" cy="766.1" r="6.5"/><circle cx="666.7" cy="785.8" r="6.5"/><circle cx="684.4" cy="647.5" r="6.5"/><circle cx="702.1" cy="415.9" r="6.5"/><circle cx="719.8" cy="524.9" r="6.5"/><circle cx="737.5" cy="558.8" r="6.5"/><circle cx="755.2" cy="510.7" r="6.5"/><circle cx="772.9" cy="648.5" r="6.5"/><circle cx="790.6" cy="451.6" r="6.5"/><circle cx="808.3" cy="396.2" r="6.5"/><circle cx="826.0" cy="430.5" r="6.5"/><circle cx="843.7" cy="400.6" r="6.5"/><circle cx="861.4" cy="452.0" r="6.5"/><circle cx="879.1" cy="326.9" r="6.5"/><circle cx="896.9" cy="463.3" r="6.5"/><circle cx="914.6" cy="518.7" r="6.5"/><circle cx="932.3" cy="393.3" r="6.5"/><circle cx="950.0" cy="656.5" r="6.5"/><circle cx="967.7" cy="598.9" r="6.5"/><circle cx="985.4" cy="598.9" r="6.5"/><circle cx="1003.1" cy="617.9" r="6.5"/><circle cx="1020.8" cy="646.2" r="6.5"/><circle cx="1038.5" cy="648.0" r="6.5"/><circle cx="1056.2" cy="726.9" r="6.5"/><circle cx="1073.9" cy="709.4" r="6.5"/><circle cx="1091.6" cy="697.1" r="6.5"/><circle cx="1109.3" cy="709.4" r="6.5"/><circle cx="1127.0" cy="646.0" r="6.5"/><circle cx="1144.7" cy="687.6" r="6.5"/><circle cx="1162.4" cy="633.0" r="6.5"/><circle cx="1180.1" cy="700.0" r="6.5"/><circle cx="1197.9" cy="646.5" r="6.5"/><circle cx="1215.6" cy="518.0" r="6.5"/><circle cx="1233.3" cy="454.5" r="6.5"/><circle cx="1251.0" cy="582.0" r="6.5"/><circle cx="1268.7" cy="584.2" r="6.5"/><circle cx="1286.4" cy="604.6" r="6.5"/><circle cx="1304.1" cy="550.0" r="6.5"/><circle cx="1321.8" cy="601.0" r="6.5"/><circle cx="1339.5" cy="617.8" r="6.5"/><circle cx="1357.2" cy="568.2" r="6.5"/><circle cx="1374.9" cy="676.5" r="6.5"/><circle cx="1392.6" cy="695.0" r="6.5"/><circle cx="1410.3" cy="704.2" r="6.5"/><circle cx="1428.0" cy="691.0" r="6.5"/><circle cx="1445.7" cy="715.2" r="6.5"/><circle cx="1463.4" cy="742.0" r="6.5"/><circle cx="1481.2" cy="714.5" r="6.5"/><circle cx="1498.9" cy="733.4" r="6.5"/><circle cx="1516.6" cy="731.2" r="6.5"/><circle cx="1534.3" cy="680.5" r="6.5"/><circle cx="1552.0" cy="645.0" r="6.5"/><circle cx="1569.7" cy="697.5" r="6.5"/><circle cx="1587.4" cy="693.8" r="6.5"/><circle cx="1605.1" cy="727.3" r="6.5"/><circle cx="1622.8" cy="827.1" r="6.5"/><circle cx="1640.5" cy="704.0" r="6.5"/><circle cx="1658.2" cy="668.3" r="6.5"/><circle cx="1675.9" cy="616.6" r="6.5"/><circle cx="1693.6" cy="697.5" r="6.5"/><circle cx="1711.3" cy="733.9" r="6.5"/><circle cx="1729.0" cy="716.4" r="6.5"/><circle cx="1746.7" cy="731.7" r="6.5"/><circle cx="1764.4" cy="655.0" r="6.5"/><circle cx="1782.2" cy="592.6" r="6.5"/>
</g>
<g fill="#80FF00" stroke="none">
<circle cx="153.2" cy="438.5" r="6.5"/><circle cx="170.9" cy="440.5" r="6.5"/><circle cx="188.6" cy="442.6" r="6.5"/><circle cx="206.3" cy="451.7" r="6.5"/><circle cx="224.0" cy="496.1" r="6.5"/><circle cx="241.7" cy="405.3" r="6.5"/><circle cx="259.4" cy="428.3" r="6.5"/><circle cx="277.1" cy="432.6" r="6.5"/><circle cx="294.8" cy="434.6" r="6.5"/><circle cx="312.6" cy="435.1" r="6.5"/><circle cx="330.3" cy="437.2" r="6.5"/><circle cx="348.0" cy="436.8" r="6.5"/><circle cx="365.7" cy="435.8" r="6.5"/><circle cx="383.4" cy="420.2" r="6.5"/><circle cx="401.1" cy="386.4" r="6.5"/><circle cx="418.8" cy="358.1" r="6.5"/><circle cx="436.5" cy="691.8" r="6.5"/><circle cx="454.2" cy="626.0" r="6.5"/><circle cx="471.9" cy="614.3" r="6.5"/><circle cx="489.6" cy="640.1" r="6.5"/><circle cx="507.3" cy="684.5" r="6.5"/><circle cx="525.0" cy="663.4" r="6.5"/><circle cx="542.7" cy="624.9" r="6.5"/><circle cx="560.4" cy="618.4" r="6.5"/><circle cx="578.1" cy="656.1" r="6.5"/><circle cx="595.8" cy="764.0" r="6.5"/><circle cx="613.6" cy="646.6" r="6.5"/><circle cx="631.3" cy="688.2" r="6.5"/><circle cx="649.0" cy="760.3" r="6.5"/><circle cx="666.7" cy="812.0" r="6.5"/><circle cx="684.4" cy="600.9" r="6.5"/><circle cx="702.1" cy="553.0" r="6.5"/><circle cx="719.8" cy="405.7" r="6.5"/><circle cx="737.5" cy="546.0" r="6.5"/><circle cx="755.2" cy="473.5" r="6.5"/><circle cx="772.9" cy="713.5" r="6.5"/><circle cx="790.6" cy="438.5" r="6.5"/><circle cx="808.3" cy="503.4" r="6.5"/><circle cx="826.0" cy="604.8" r="6.5"/><circle cx="843.7" cy="540.0" r="6.5"/><circle cx="861.4" cy="519.8" r="6.5"/><circle cx="879.1" cy="515.1" r="6.5"/><circle cx="896.9" cy="448.0" r="6.5"/><circle cx="914.6" cy="566.5" r="6.5"/><circle cx="932.3" cy="558.1" r="6.5"/><circle cx="950.0" cy="670.3" r="6.5"/><circle cx="967.7" cy="654.7" r="6.5"/><circle cx="985.4" cy="667.9" r="6.5"/><circle cx="1003.1" cy="685.4" r="6.5"/><circle cx="1020.8" cy="709.4" r="6.5"/><circle cx="1038.5" cy="745.2" r="6.5"/><circle cx="1056.2" cy="748.1" r="6.5"/><circle cx="1073.9" cy="671.5" r="6.5"/><circle cx="1091.6" cy="662.6" r="6.5"/><circle cx="1109.3" cy="671.0" r="6.5"/><circle cx="1127.0" cy="640.7" r="6.5"/><circle cx="1144.7" cy="710.9" r="6.5"/><circle cx="1162.4" cy="655.0" r="6.5"/><circle cx="1180.1" cy="603.0" r="6.5"/><circle cx="1197.9" cy="516.2" r="6.5"/><circle cx="1215.6" cy="447.3" r="6.5"/><circle cx="1233.3" cy="388.2" r="6.5"/><circle cx="1251.0" cy="685.4" r="6.5"/><circle cx="1268.7" cy="631.6" r="6.5"/><circle cx="1286.4" cy="643.7" r="6.5"/><circle cx="1304.1" cy="700.0" r="6.5"/><circle cx="1321.8" cy="712.0" r="6.5"/><circle cx="1339.5" cy="773.9" r="6.5"/><circle cx="1357.2" cy="625.0" r="6.5"/><circle cx="1374.9" cy="665.0" r="6.5"/><circle cx="1392.6" cy="672.0" r="6.5"/><circle cx="1410.3" cy="631.6" r="6.5"/><circle cx="1428.0" cy="634.5" r="6.5"/><circle cx="1445.7" cy="691.8" r="6.5"/><circle cx="1463.4" cy="680.2" r="6.5"/><circle cx="1481.2" cy="708.5" r="6.5"/><circle cx="1498.9" cy="769.6" r="6.5"/><circle cx="1516.6" cy="695.5" r="6.5"/><circle cx="1534.3" cy="675.0" r="6.5"/><circle cx="1552.0" cy="588.2" r="6.5"/><circle cx="1569.7" cy="612.0" r="6.5"/><circle cx="1587.4" cy="661.7" r="6.5"/><circle cx="1605.1" cy="711.3" r="6.5"/><circle cx="1622.8" cy="795.0" r="6.5"/><circle cx="1640.5" cy="480.3" r="6.5"/><circle cx="1658.2" cy="558.3" r="6.5"/><circle cx="1675.9" cy="581.6" r="6.5"/><circle cx="1693.6" cy="590.4" r="6.5"/><circle cx="1711.3" cy="470.8" r="6.5"/><circle cx="1729.0" cy="624.6" r="6.5"/><circle cx="1746.7" cy="642.8" r="6.5"/><circle cx="1764.4" cy="564.1" r="6.5"/><circle cx="1782.2" cy="545.2" r="6.5"/>
</g>
<g fill="#00FF40" stroke="none">
<circle cx="153.2" cy="428.3" r="6.5"/><circle cx="170.9" cy="427.3" r="6.5"/><circle cx="188.6" cy="422.4" r="6.5"/><circle cx="206.3" cy="406.8" r="6.5"/><circle cx="224.0" cy="391.7" r="6.5"/><circle cx="241.7" cy="478.5" r="6.5"/><circle cx="259.4" cy="460.0" r="6.5"/><circle cx="277.1" cy="454.1" r="6.5"/><circle cx="294.8" cy="451.2" r="6.5"/><circle cx="312.6" cy="448.2" r="6.5"/><circle cx="330.3" cy="447.6" r="6.5"/><circle cx="348.0" cy="446.5" r="6.5"/><circle cx="365.7" cy="443.8" r="6.5"/><circle cx="383.4" cy="437.5" r="6.5"/><circle cx="401.1" cy="417.8" r="6.5"/><circle cx="418.8" cy="221.5" r="6.5"/><circle cx="436.5" cy="654.7" r="6.5"/><circle cx="454.2" cy="598.8" r="6.5"/><circle cx="471.9" cy="587.1" r="6.5"/><circle cx="489.6" cy="603.0" r="6.5"/><circle cx="507.3" cy="644.0" r="6.5"/><circle cx="525.0" cy="617.6" r="6.5"/><circle cx="542.7" cy="582.4" r="6.5"/><circle cx="560.4" cy="584.2" r="6.5"/><circle cx="578.1" cy="638.0" r="6.5"/><circle cx="595.8" cy="764.0" r="6.5"/><circle cx="613.6" cy="664.1" r="6.5"/><circle cx="631.3" cy="642.3" r="6.5"/><circle cx="649.0" cy="520.1" r="6.5"/><circle cx="666.7" cy="832.4" r="6.5"/><circle cx="684.4" cy="673.4" r="6.5"/><circle cx="702.1" cy="574.1" r="6.5"/><circle cx="719.8" cy="507.8" r="6.5"/><circle cx="737.5" cy="453.1" r="6.5"/><circle cx="755.2" cy="394.8" r="6.5"/><circle cx="772.9" cy="706.7" r="6.5"/><circle cx="790.6" cy="431.2" r="6.5"/><circle cx="808.3" cy="457.5" r="6.5"/><circle cx="826.0" cy="507.0" r="6.5"/><circle cx="843.7" cy="437.8" r="6.5"/><circle cx="861.4" cy="407.2" r="6.5"/><circle cx="879.1" cy="360.5" r="6.5"/><circle cx="896.9" cy="500.5" r="6.5"/><circle cx="914.6" cy="551.0" r="6.5"/><circle cx="932.3" cy="590.0" r="6.5"/><circle cx="950.0" cy="537.0" r="6.5"/><circle cx="967.7" cy="590.9" r="6.5"/><circle cx="985.4" cy="623.4" r="6.5"/><circle cx="1003.1" cy="643.0" r="6.5"/><circle cx="1020.8" cy="683.0" r="6.5"/><circle cx="1038.5" cy="746.6" r="6.5"/><circle cx="1056.2" cy="765.6" r="6.5"/><circle cx="1073.9" cy="729.0" r="6.5"/><circle cx="1091.6" cy="498.3" r="6.5"/><circle cx="1109.3" cy="596.0" r="6.5"/><circle cx="1127.0" cy="667.5" r="6.5"/><circle cx="1144.7" cy="722.6" r="6.5"/><circle cx="1162.4" cy="671.5" r="6.5"/><circle cx="1180.1" cy="596.0" r="6.5"/><circle cx="1197.9" cy="671.5" r="6.5"/><circle cx="1215.6" cy="659.3" r="6.5"/><circle cx="1233.3" cy="657.5" r="6.5"/><circle cx="1251.0" cy="693.0" r="6.5"/><circle cx="1268.7" cy="621.4" r="6.5"/><circle cx="1286.4" cy="726.1" r="6.5"/><circle cx="1304.1" cy="704.0" r="6.5"/><circle cx="1321.8" cy="708.6" r="6.5"/><circle cx="1339.5" cy="832.2" r="6.5"/><circle cx="1357.2" cy="736.3" r="6.5"/><circle cx="1374.9" cy="705.0" r="6.5"/><circle cx="1392.6" cy="643.7" r="6.5"/><circle cx="1410.3" cy="654.6" r="6.5"/><circle cx="1428.0" cy="694.0" r="6.5"/><circle cx="1445.7" cy="746.4" r="6.5"/><circle cx="1463.4" cy="761.5" r="6.5"/><circle cx="1481.2" cy="700.0" r="6.5"/><circle cx="1498.9" cy="539.0" r="6.5"/><circle cx="1516.6" cy="643.0" r="6.5"/><circle cx="1534.3" cy="619.9" r="6.5"/><circle cx="1552.0" cy="638.4" r="6.5"/><circle cx="1569.7" cy="630.4" r="6.5"/><circle cx="1587.4" cy="641.3" r="6.5"/><circle cx="1605.1" cy="662.5" r="6.5"/><circle cx="1622.8" cy="668.3" r="6.5"/><circle cx="1640.5" cy="649.4" r="6.5"/><circle cx="1658.2" cy="653.0" r="6.5"/><circle cx="1675.9" cy="660.0" r="6.5"/><circle cx="1693.6" cy="690.9" r="6.5"/><circle cx="1711.3" cy="662.0" r="6.5"/><circle cx="1729.0" cy="690.9" r="6.5"/><circle cx="1746.7" cy="726.6" r="6.5"/><circle cx="1764.4" cy="672.0" r="6.5"/><circle cx="1782.2" cy="652.0" r="6.5"/>
</g>
<g fill="#00FFFF" stroke="none">
<circle cx="153.2" cy="424.8" r="6.5"/><circle cx="170.9" cy="420.0" r="6.5"/><circle cx="188.6" cy="408.8" r="6.5"/><circle cx="206.3" cy="370.2" r="6.5"/><circle cx="224.0" cy="505.8" r="6.5"/><circle cx="241.7" cy="508.3" r="6.5"/><circle cx="259.4" cy="479.5" r="6.5"/><circle cx="277.1" cy="472.7" r="6.5"/><circle cx="294.8" cy="470.2" r="6.5"/><circle cx="312.6" cy="469.2" r="6.5"/><circle cx="330.3" cy="470.0" r="6.5"/><circle cx="348.0" cy="473.6" r="6.5"/><circle cx="365.7" cy="475.1" r="6.5"/><circle cx="383.4" cy="477.0" r="6.5"/><circle cx="401.1" cy="482.9" r="6.5"/><circle cx="418.8" cy="501.6" r="6.5"/><circle cx="436.5" cy="584.2" r="6.5"/><circle cx="454.2" cy="449.6" r="6.5"/><circle cx="471.9" cy="501.6" r="6.5"/><circle cx="489.6" cy="543.7" r="6.5"/><circle cx="507.3" cy="594.4" r="6.5"/><circle cx="525.0" cy="576.9" r="6.5"/><circle cx="542.7" cy="552.2" r="6.5"/><circle cx="560.4" cy="566.0" r="6.5"/><circle cx="578.1" cy="630.7" r="6.5"/><circle cx="595.8" cy="780.0" r="6.5"/><circle cx="613.6" cy="674.3" r="6.5"/><circle cx="631.3" cy="660.5" r="6.5"/><circle cx="649.0" cy="669.2" r="6.5"/><circle cx="666.7" cy="816.4" r="6.5"/><circle cx="684.4" cy="719.4" r="6.5"/><circle cx="702.1" cy="601.1" r="6.5"/><circle cx="719.8" cy="584.3" r="6.5"/><circle cx="737.5" cy="295.6" r="6.5"/><circle cx="755.2" cy="383.5" r="6.5"/><circle cx="772.9" cy="500.5" r="6.5"/><circle cx="790.6" cy="394.8" r="6.5"/><circle cx="808.3" cy="415.2" r="6.5"/><circle cx="826.0" cy="483.0" r="6.5"/><circle cx="843.7" cy="381.6" r="6.5"/><circle cx="861.4" cy="387.8" r="6.5"/><circle cx="879.1" cy="461.8" r="6.5"/><circle cx="896.9" cy="338.6" r="6.5"/><circle cx="914.6" cy="541.0" r="6.5"/><circle cx="932.3" cy="531.1" r="6.5"/><circle cx="950.0" cy="511.4" r="6.5"/><circle cx="967.7" cy="538.4" r="6.5"/><circle cx="985.4" cy="574.3" r="6.5"/><circle cx="1003.1" cy="606.2" r="6.5"/><circle cx="1020.8" cy="657.0" r="6.5"/><circle cx="1038.5" cy="751.0" r="6.5"/><circle cx="1056.2" cy="765.6" r="6.5"/><circle cx="1073.9" cy="694.1" r="6.5"/><circle cx="1091.6" cy="775.8" r="6.5"/><circle cx="1109.3" cy="588.0" r="6.5"/><circle cx="1127.0" cy="652.4" r="6.5"/><circle cx="1144.7" cy="571.2" r="6.5"/><circle cx="1162.4" cy="614.2" r="6.5"/><circle cx="1180.1" cy="609.1" r="6.5"/><circle cx="1197.9" cy="616.4" r="6.5"/><circle cx="1215.6" cy="630.5" r="6.5"/><circle cx="1233.3" cy="632.0" r="6.5"/><circle cx="1251.0" cy="634.3" r="6.5"/><circle cx="1268.7" cy="702.0" r="6.5"/><circle cx="1286.4" cy="626.8" r="6.5"/><circle cx="1304.1" cy="702.0" r="6.5"/><circle cx="1321.8" cy="756.3" r="6.5"/><circle cx="1339.5" cy="851.9" r="6.5"/><circle cx="1357.2" cy="740.7" r="6.5"/><circle cx="1374.9" cy="587.1" r="6.5"/><circle cx="1392.6" cy="719.0" r="6.5"/><circle cx="1410.3" cy="658.3" r="6.5"/><circle cx="1428.0" cy="690.4" r="6.5"/><circle cx="1445.7" cy="780.0" r="6.5"/><circle cx="1463.4" cy="701.3" r="6.5"/><circle cx="1481.2" cy="634.0" r="6.5"/><circle cx="1498.9" cy="590.8" r="6.5"/><circle cx="1516.6" cy="614.8" r="6.5"/><circle cx="1534.3" cy="563.1" r="6.5"/><circle cx="1552.0" cy="384.1" r="6.5"/><circle cx="1569.7" cy="531.3" r="6.5"/><circle cx="1587.4" cy="427.8" r="6.5"/><circle cx="1605.1" cy="678.5" r="6.5"/><circle cx="1622.8" cy="763.0" r="6.5"/><circle cx="1640.5" cy="749.2" r="6.5"/><circle cx="1658.2" cy="676.0" r="6.5"/><circle cx="1675.9" cy="648.6" r="6.5"/><circle cx="1693.6" cy="664.0" r="6.5"/><circle cx="1711.3" cy="714.2" r="6.5"/><circle cx="1729.0" cy="747.8" r="6.5"/><circle cx="1746.7" cy="608.4" r="6.5"/><circle cx="1764.4" cy="648.0" r="6.5"/><circle cx="1782.2" cy="702.6" r="6.5"/>
</g>
<g fill="#0040FF" stroke="none">
<circle cx="153.2" cy="442.9" r="6.5"/><circle cx="170.9" cy="447.3" r="6.5"/><circle cx="188.6" cy="453.1" r="6.5"/><circle cx="206.3" cy="466.8" r="6.5"/><circle cx="224.0" cy="546.8" r="6.5"/><circle cx="241.7" cy="307.8" r="6.5"/><circle cx="259.4" cy="398.1" r="6.5"/><circle cx="277.1" cy="412.9" r="6.5"/><circle cx="294.8" cy="420.5" r="6.5"/><circle cx="312.6" cy="426.0" r="6.5"/><circle cx="330.3" cy="427.5" r="6.5"/><circle cx="348.0" cy="429.3" r="6.5"/><circle cx="365.7" cy="429.3" r="6.5"/><circle cx="383.4" cy="426.5" r="6.5"/><circle cx="401.1" cy="411.7" r="6.5"/><circle cx="418.8" cy="296.1" r="6.5"/><circle cx="436.5" cy="636.4" r="6.5"/><circle cx="454.2" cy="590.1" r="6.5"/><circle cx="471.9" cy="582.0" r="6.5"/><circle cx="489.6" cy="608.5" r="6.5"/><circle cx="507.3" cy="650.7" r="6.5"/><circle cx="525.0" cy="621.4" r="6.5"/><circle cx="542.7" cy="572.6" r="6.5"/><circle cx="560.4" cy="542.7" r="6.5"/><circle cx="578.1" cy="606.0" r="6.5"/><circle cx="595.8" cy="770.0" r="6.5"/><circle cx="613.6" cy="747.9" r="6.5"/><circle cx="631.3" cy="696.5" r="6.5"/><circle cx="649.0" cy="773.4" r="6.5"/><circle cx="666.7" cy="686.7" r="6.5"/><circle cx="684.4" cy="714.5" r="6.5"/><circle cx="702.1" cy="520.5" r="6.5"/><circle cx="719.8" cy="547.2" r="6.5"/><circle cx="737.5" cy="546.4" r="6.5"/><circle cx="755.2" cy="461.8" r="6.5"/><circle cx="772.9" cy="379.4" r="6.5"/><circle cx="790.6" cy="247.2" r="6.5"/><circle cx="808.3" cy="427.6" r="6.5"/><circle cx="826.0" cy="473.5" r="6.5"/><circle cx="843.7" cy="442.9" r="6.5"/><circle cx="861.4" cy="485.2" r="6.5"/><circle cx="879.1" cy="505.6" r="6.5"/><circle cx="896.9" cy="567.6" r="6.5"/><circle cx="914.6" cy="544.0" r="6.5"/><circle cx="932.3" cy="549.4" r="6.5"/><circle cx="950.0" cy="695.1" r="6.5"/><circle cx="967.7" cy="641.2" r="6.5"/><circle cx="985.4" cy="652.4" r="6.5"/><circle cx="1003.1" cy="669.4" r="6.5"/><circle cx="1020.8" cy="701.4" r="6.5"/><circle cx="1038.5" cy="755.4" r="6.5"/><circle cx="1056.2" cy="773.6" r="6.5"/><circle cx="1073.9" cy="735.0" r="6.5"/><circle cx="1091.6" cy="740.8" r="6.5"/><circle cx="1109.3" cy="671.5" r="6.5"/><circle cx="1127.0" cy="689.8" r="6.5"/><circle cx="1144.7" cy="653.5" r="6.5"/><circle cx="1162.4" cy="654.5" r="6.5"/><circle cx="1180.1" cy="622.2" r="6.5"/><circle cx="1197.9" cy="610.6" r="6.5"/><circle cx="1215.6" cy="620.1" r="6.5"/><circle cx="1233.3" cy="638.9" r="6.5"/><circle cx="1251.0" cy="675.9" r="6.5"/><circle cx="1268.7" cy="683.8" r="6.5"/><circle cx="1286.4" cy="715.2" r="6.5"/><circle cx="1304.1" cy="694.0" r="6.5"/><circle cx="1321.8" cy="601.0" r="6.5"/><circle cx="1339.5" cy="752.9" r="6.5"/><circle cx="1357.2" cy="605.4" r="6.5"/><circle cx="1374.9" cy="662.7" r="6.5"/><circle cx="1392.6" cy="720.3" r="6.5"/><circle cx="1410.3" cy="664.1" r="6.5"/><circle cx="1428.0" cy="647.4" r="6.5"/><circle cx="1445.7" cy="780.0" r="6.5"/><circle cx="1463.4" cy="712.2" r="6.5"/><circle cx="1481.2" cy="689.7" r="6.5"/><circle cx="1498.9" cy="644.5" r="6.5"/><circle cx="1516.6" cy="679.4" r="6.5"/><circle cx="1534.3" cy="676.4" r="6.5"/><circle cx="1552.0" cy="609.3" r="6.5"/><circle cx="1569.7" cy="612.2" r="6.5"/><circle cx="1587.4" cy="612.9" r="6.5"/><circle cx="1605.1" cy="672.0" r="6.5"/><circle cx="1622.8" cy="765.2" r="6.5"/><circle cx="1640.5" cy="766.0" r="6.5"/><circle cx="1658.2" cy="712.8" r="6.5"/><circle cx="1675.9" cy="695.3" r="6.5"/><circle cx="1693.6" cy="659.6" r="6.5"/><circle cx="1711.3" cy="645.7" r="6.5"/><circle cx="1729.0" cy="641.3" r="6.5"/><circle cx="1746.7" cy="629.5" r="6.5"/><circle cx="1764.4" cy="634.1" r="6.5"/><circle cx="1782.2" cy="638.4" r="6.5"/>
</g>
<g fill="#8000FF" stroke="none">
<circle cx="153.2" cy="429.7" r="6.5"/><circle cx="170.9" cy="429.2" r="6.5"/><circle cx="188.6" cy="429.7" r="6.5"/><circle cx="206.3" cy="429.7" r="6.5"/><circle cx="224.0" cy="431.7" r="6.5"/><circle cx="241.7" cy="427.3" r="6.5"/><circle cx="259.4" cy="426.8" r="6.5"/><circle cx="277.1" cy="422.9" r="6.5"/><circle cx="294.8" cy="419.5" r="6.5"/><circle cx="312.6" cy="415.6" r="6.5"/><circle cx="330.3" cy="409.2" r="6.5"/><circle cx="348.0" cy="399.4" r="6.5"/><circle cx="365.7" cy="380.9" r="6.5"/><circle cx="383.4" cy="335.7" r="6.5"/><circle cx="401.1" cy="213.5" r="6.5"/><circle cx="418.8" cy="464.3" r="6.5"/><circle cx="436.5" cy="704.2" r="6.5"/><circle cx="454.2" cy="610.3" r="6.5"/><circle cx="471.9" cy="580.6" r="6.5"/><circle cx="489.6" cy="585.7" r="6.5"/><circle cx="507.3" cy="617.3" r="6.5"/><circle cx="525.0" cy="584.2" r="6.5"/><circle cx="542.7" cy="539.0" r="6.5"/><circle cx="560.4" cy="520.1" r="6.5"/><circle cx="578.1" cy="531.0" r="6.5"/><circle cx="595.8" cy="773.4" r="6.5"/><circle cx="613.6" cy="778.0" r="6.5"/><circle cx="631.3" cy="737.0" r="6.5"/><circle cx="649.0" cy="734.4" r="6.5"/><circle cx="666.7" cy="825.2" r="6.5"/><circle cx="684.4" cy="704.4" r="6.5"/><circle cx="702.1" cy="538.4" r="6.5"/><circle cx="719.8" cy="538.4" r="6.5"/><circle cx="737.5" cy="488.8" r="6.5"/><circle cx="755.2" cy="429.8" r="6.5"/><circle cx="772.9" cy="685.6" r="6.5"/><circle cx="790.6" cy="569.0" r="6.5"/><circle cx="808.3" cy="574.9" r="6.5"/><circle cx="826.0" cy="603.3" r="6.5"/><circle cx="843.7" cy="470.6" r="6.5"/><circle cx="861.4" cy="451.6" r="6.5"/><circle cx="879.1" cy="553.0" r="6.5"/><circle cx="896.9" cy="552.3" r="6.5"/><circle cx="914.6" cy="541.3" r="6.5"/><circle cx="932.3" cy="565.4" r="6.5"/><circle cx="950.0" cy="586.0" r="6.5"/><circle cx="967.7" cy="609.1" r="6.5"/><circle cx="985.4" cy="615.7" r="6.5"/><circle cx="1003.1" cy="628.1" r="6.5"/><circle cx="1020.8" cy="653.5" r="6.5"/><circle cx="1038.5" cy="681.0" r="6.5"/><circle cx="1056.2" cy="717.5" r="6.5"/><circle cx="1073.9" cy="682.5" r="6.5"/><circle cx="1091.6" cy="516.9" r="6.5"/><circle cx="1109.3" cy="772.1" r="6.5"/><circle cx="1127.0" cy="737.1" r="6.5"/><circle cx="1144.7" cy="680.3" r="6.5"/><circle cx="1162.4" cy="541.3" r="6.5"/><circle cx="1180.1" cy="562.5" r="6.5"/><circle cx="1197.9" cy="534.1" r="6.5"/><circle cx="1215.6" cy="540.6" r="6.5"/><circle cx="1233.3" cy="576.3" r="6.5"/><circle cx="1251.0" cy="581.7" r="6.5"/><circle cx="1268.7" cy="550.7" r="6.5"/><circle cx="1286.4" cy="587.1" r="6.5"/><circle cx="1304.1" cy="697.5" r="6.5"/><circle cx="1321.8" cy="722.0" r="6.5"/><circle cx="1339.5" cy="787.8" r="6.5"/><circle cx="1357.2" cy="691.1" r="6.5"/><circle cx="1374.9" cy="563.8" r="6.5"/><circle cx="1392.6" cy="672.2" r="6.5"/><circle cx="1410.3" cy="522.3" r="6.5"/><circle cx="1428.0" cy="601.7" r="6.5"/><circle cx="1445.7" cy="787.1" r="6.5"/><circle cx="1463.4" cy="357.1" r="6.5"/><circle cx="1481.2" cy="696.2" r="6.5"/><circle cx="1498.9" cy="619.9" r="6.5"/><circle cx="1516.6" cy="664.0" r="6.5"/><circle cx="1534.3" cy="655.7" r="6.5"/><circle cx="1552.0" cy="516.0" r="6.5"/><circle cx="1569.7" cy="623.1" r="6.5"/><circle cx="1587.4" cy="673.4" r="6.5"/><circle cx="1605.1" cy="751.4" r="6.5"/><circle cx="1622.8" cy="801.6" r="6.5"/><circle cx="1640.5" cy="731.0" r="6.5"/><circle cx="1658.2" cy="653.0" r="6.5"/><circle cx="1675.9" cy="658.8" r="6.5"/><circle cx="1693.6" cy="627.5" r="6.5"/><circle cx="1711.3" cy="655.2" r="6.5"/><circle cx="1729.0" cy="706.2" r="6.5"/><circle cx="1746.7" cy="629.0" r="6.5"/><circle cx="1764.4" cy="513.1" r="6.5"/><circle cx="1782.2" cy="448.5" r="6.5"/>
</g>
<g fill="#FF00BF" stroke="none">
<circle cx="153.2" cy="428.3" r="6.5"/><circle cx="170.9" cy="424.8" r="6.5"/><circle cx="188.6" cy="418.0" r="6.5"/><circle cx="206.3" cy="394.1" r="6.5"/><circle cx="224.0" cy="452.9" r="6.5"/><circle cx="241.7" cy="492.4" r="6.5"/><circle cx="259.4" cy="468.2" r="6.5"/><circle cx="277.1" cy="462.4" r="6.5"/><circle cx="294.8" cy="460.4" r="6.5"/><circle cx="312.6" cy="458.5" r="6.5"/><circle cx="330.3" cy="456.4" r="6.5"/><circle cx="348.0" cy="456.5" r="6.5"/><circle cx="365.7" cy="456.8" r="6.5"/><circle cx="383.4" cy="454.9" r="6.5"/><circle cx="401.1" cy="447.8" r="6.5"/><circle cx="418.8" cy="410.0" r="6.5"/><circle cx="436.5" cy="594.4" r="6.5"/><circle cx="454.2" cy="570.4" r="6.5"/><circle cx="471.9" cy="564.5" r="6.5"/><circle cx="489.6" cy="589.3" r="6.5"/><circle cx="507.3" cy="629.3" r="6.5"/><circle cx="525.0" cy="596.6" r="6.5"/><circle cx="542.7" cy="538.3" r="6.5"/><circle cx="560.4" cy="501.9" r="6.5"/><circle cx="578.1" cy="547.1" r="6.5"/><circle cx="595.8" cy="790.2" r="6.5"/><circle cx="613.6" cy="777.8" r="6.5"/><circle cx="631.3" cy="739.2" r="6.5"/><circle cx="649.0" cy="647.4" r="6.5"/><circle cx="666.7" cy="859.4" r="6.5"/><circle cx="684.4" cy="691.6" r="6.5"/><circle cx="702.1" cy="609.1" r="6.5"/><circle cx="719.8" cy="562.5" r="6.5"/><circle cx="737.5" cy="484.4" r="6.5"/><circle cx="755.2" cy="453.8" r="6.5"/><circle cx="772.9" cy="653.9" r="6.5"/><circle cx="790.6" cy="483.7" r="6.5"/><circle cx="808.3" cy="482.2" r="6.5"/><circle cx="826.0" cy="514.3" r="6.5"/><circle cx="843.7" cy="456.0" r="6.5"/><circle cx="861.4" cy="462.6" r="6.5"/><circle cx="879.1" cy="426.1" r="6.5"/><circle cx="896.9" cy="325.5" r="6.5"/><circle cx="914.6" cy="558.8" r="6.5"/><circle cx="932.3" cy="589.4" r="6.5"/><circle cx="950.0" cy="581.4" r="6.5"/><circle cx="967.7" cy="565.4" r="6.5"/><circle cx="985.4" cy="574.1" r="6.5"/><circle cx="1003.1" cy="593.8" r="6.5"/><circle cx="1020.8" cy="636.0" r="6.5"/><circle cx="1038.5" cy="622.2" r="6.5"/><circle cx="1056.2" cy="700.7" r="6.5"/><circle cx="1073.9" cy="721.1" r="6.5"/><circle cx="1091.6" cy="672.3" r="6.5"/><circle cx="1109.3" cy="514.0" r="6.5"/><circle cx="1127.0" cy="660.4" r="6.5"/><circle cx="1144.7" cy="596.7" r="6.5"/><circle cx="1162.4" cy="480.5" r="6.5"/><circle cx="1180.1" cy="580.0" r="6.5"/><circle cx="1197.9" cy="526.4" r="6.5"/><circle cx="1215.6" cy="507.0" r="6.5"/><circle cx="1233.3" cy="580.7" r="6.5"/><circle cx="1251.0" cy="599.6" r="6.5"/><circle cx="1268.7" cy="606.1" r="6.5"/><circle cx="1286.4" cy="637.0" r="6.5"/><circle cx="1304.1" cy="404.1" r="6.5"/><circle cx="1321.8" cy="678.7" r="6.5"/><circle cx="1339.5" cy="795.1" r="6.5"/><circle cx="1357.2" cy="667.8" r="6.5"/><circle cx="1374.9" cy="683.8" r="6.5"/><circle cx="1392.6" cy="596.6" r="6.5"/><circle cx="1410.3" cy="643.7" r="6.5"/><circle cx="1428.0" cy="667.1" r="6.5"/><circle cx="1445.7" cy="830.8" r="6.5"/><circle cx="1463.4" cy="790.7" r="6.5"/><circle cx="1481.2" cy="708.6" r="6.5"/><circle cx="1498.9" cy="696.9" r="6.5"/><circle cx="1516.6" cy="663.4" r="6.5"/><circle cx="1534.3" cy="671.3" r="6.5"/><circle cx="1552.0" cy="645.0" r="6.5"/><circle cx="1569.7" cy="629.0" r="6.5"/><circle cx="1587.4" cy="654.5" r="6.5"/><circle cx="1605.1" cy="669.8" r="6.5"/><circle cx="1622.8" cy="792.9" r="6.5"/><circle cx="1640.5" cy="555.4" r="6.5"/><circle cx="1658.2" cy="602.0" r="6.5"/><circle cx="1675.9" cy="684.3" r="6.5"/><circle cx="1693.6" cy="682.9" r="6.5"/><circle cx="1711.3" cy="666.9" r="6.5"/><circle cx="1729.0" cy="609.3" r="6.5"/><circle cx="1746.7" cy="674.1" r="6.5"/><circle cx="1764.4" cy="658.8" r="6.5"/><circle cx="1782.2" cy="650.8" r="6.5"/>
</g>
<g fill="#000000" stroke="none">
<circle cx="153.2" cy="438.5" r="6.6"/><circle cx="170.9" cy="440.5" r="6.6"/><circle cx="188.6" cy="442.4" r="6.6"/><circle cx="206.3" cy="444.9" r="6.6"/><circle cx="224.0" cy="532.2" r="6.6"/><circle cx="241.7" cy="456.1" r="6.6"/><circle cx="259.4" cy="446.1" r="6.6"/><circle cx="277.1" cy="448.5" r="6.6"/><circle cx="294.8" cy="452.2" r="6.6"/><circle cx="312.6" cy="456.1" r="6.6"/><circle cx="330.3" cy="460.0" r="6.6"/><circle cx="348.0" cy="464.8" r="6.6"/><circle cx="365.7" cy="470.7" r="6.6"/><circle cx="383.4" cy="478.0" r="6.6"/><circle cx="401.1" cy="488.7" r="6.6"/><circle cx="418.8" cy="513.5" r="6.6"/><circle cx="436.5" cy="670.0" r="6.6"/><circle cx="454.2" cy="580.6" r="6.6"/><circle cx="471.9" cy="571.1" r="6.6"/><circle cx="489.6" cy="603.4" r="6.6"/><circle cx="507.3" cy="648.1" r="6.6"/><circle cx="525.0" cy="623.5" r="6.6"/><circle cx="542.7" cy="581.3" r="6.6"/><circle cx="560.4" cy="568.2" r="6.6"/><circle cx="578.1" cy="606.0" r="6.6"/><circle cx="595.8" cy="764.7" r="6.6"/><circle cx="613.6" cy="728.3" r="6.6"/><circle cx="631.3" cy="701.3" r="6.6"/><circle cx="649.0" cy="726.8" r="6.6"/><circle cx="666.7" cy="806.9" r="6.6"/><circle cx="684.4" cy="685.1" r="6.6"/><circle cx="702.1" cy="582.9" r="6.6"/><circle cx="719.8" cy="598.2" r="6.6"/><circle cx="737.5" cy="567.6" r="6.6"/><circle cx="755.2" cy="534.8" r="6.6"/><circle cx="772.9" cy="690.7" r="6.6"/><circle cx="790.6" cy="538.4" r="6.6"/><circle cx="808.3" cy="544.3" r="6.6"/><circle cx="826.0" cy="587.3" r="6.6"/><circle cx="843.7" cy="540.6" r="6.6"/><circle cx="861.4" cy="540.6" r="6.6"/><circle cx="879.1" cy="546.4" r="6.6"/><circle cx="896.9" cy="563.2" r="6.6"/><circle cx="914.6" cy="576.3" r="6.6"/><circle cx="932.3" cy="600.4" r="6.6"/><circle cx="950.0" cy="643.7" r="6.6"/><circle cx="967.7" cy="622.2" r="6.6"/><circle cx="985.4" cy="633.0" r="6.6"/><circle cx="1003.1" cy="651.6" r="6.6"/><circle cx="1020.8" cy="683.2" r="6.6"/><circle cx="1038.5" cy="734.2" r="6.6"/><circle cx="1056.2" cy="761.2" r="6.6"/><circle cx="1073.9" cy="729.1" r="6.6"/><circle cx="1091.6" cy="705.1" r="6.6"/><circle cx="1109.3" cy="705.1" r="6.6"/><circle cx="1127.0" cy="686.9" r="6.6"/><circle cx="1144.7" cy="695.6" r="6.6"/><circle cx="1162.4" cy="640.7" r="6.6"/><circle cx="1180.1" cy="646.2" r="6.6"/><circle cx="1197.9" cy="634.5" r="6.6"/><circle cx="1215.6" cy="608.4" r="6.6"/><circle cx="1233.3" cy="623.0" r="6.6"/><circle cx="1251.0" cy="647.5" r="6.6"/><circle cx="1268.7" cy="652.5" r="6.6"/><circle cx="1286.4" cy="680.2" r="6.6"/><circle cx="1304.1" cy="704.2" r="6.6"/><circle cx="1321.8" cy="721.7" r="6.6"/><circle cx="1339.5" cy="778.3" r="6.6"/><circle cx="1357.2" cy="680.2" r="6.6"/><circle cx="1374.9" cy="669.2" r="6.6"/><circle cx="1392.6" cy="694.8" r="6.6"/><circle cx="1410.3" cy="675.8" r="6.6"/><circle cx="1428.0" cy="680.2" r="6.6"/><circle cx="1445.7" cy="774.7" r="6.6"/><circle cx="1463.4" cy="742.1" r="6.6"/><circle cx="1481.2" cy="726.8" r="6.6"/><circle cx="1498.9" cy="716.6" r="6.6"/><circle cx="1516.6" cy="721.0" r="6.6"/><circle cx="1534.3" cy="707.8" r="6.6"/><circle cx="1552.0" cy="681.4" r="6.6"/><circle cx="1569.7" cy="695.3" r="6.6"/><circle cx="1587.4" cy="710.6" r="6.6"/><circle cx="1605.1" cy="700.4" r="6.6"/><circle cx="1622.8" cy="760.1" r="6.6"/><circle cx="1640.5" cy="717.9" r="6.6"/><circle cx="1658.2" cy="673.4" r="6.6"/><circle cx="1675.9" cy="680.7" r="6.6"/><circle cx="1693.6" cy="704.8" r="6.6"/><circle cx="1711.3" cy="693.1" r="6.6"/><circle cx="1729.0" cy="683.6" r="6.6"/><circle cx="1746.7" cy="680.7" r="6.6"/><circle cx="1764.4" cy="650.8" r="6.6"/><circle cx="1782.2" cy="633.3" r="6.6"/>
</g>
</g>
<g font-size="53">
<text x="152.79" y="964.40" text-anchor="middle">25</text>
<text x="300.45" y="964.40" text-anchor="middle">50</text>
<text x="448.11" y="964.40" text-anchor="middle">75</text>
<text x="595.76" y="964.40" text-anchor="middle">100</text>
<text x="743.41" y="964.40" text-anchor="middle">125</text>
<text x="891.07" y="964.40" text-anchor="middle">150</text>
<text x="1038.72" y="964.40" text-anchor="middle">175</text>
<text x="1186.38" y="964.40" text-anchor="middle">200</text>
<text x="1334.04" y="964.40" text-anchor="middle">225</text>
<text x="1481.69" y="964.40" text-anchor="middle">250</text>
<text x="1629.35" y="964.40" text-anchor="middle">275</text>
<text x="1777.00" y="964.40" text-anchor="middle">300</text>
<text x="136.40" y="917.12" text-anchor="end">10</text>
<text x="136.40" y="809.65" text-anchor="end">20</text>
<text x="136.40" y="702.19" text-anchor="end">30</text>
<text x="136.40" y="594.72" text-anchor="end">40</text>
<text x="136.40" y="487.26" text-anchor="end">50</text>
<text x="136.40" y="379.79" text-anchor="end">60</text>
<text x="136.40" y="272.33" text-anchor="end">70</text>
<text x="136.40" y="164.86" text-anchor="end">80</text>
<text x="136.40" y="57.40" text-anchor="end">90</text>
</g>
<text x="966.70" y="1045.60" text-anchor="middle" font-size="73.8">Frequency (Hz)</text>
<text transform="translate(59.60 470.40) rotate(-90)" text-anchor="middle" font-size="74.5">NR (dB)</text>
<rect x="1837.20" y="37.60" width="206.80" height="455.10" fill="#ffffff" stroke="#4d4d4d" stroke-width="1.4"/>
<line x1="1844.30" y1="68.10" x2="1918.00" y2="68.10" stroke="#FFBF00" stroke-width="2.45"/>
<text x="1923.20" y="85.90" font-size="48.3" style="fill:#000000">Pax 1</text>
<line x1="1844.30" y1="124.35" x2="1918.00" y2="124.35" stroke="#80FF00" stroke-width="2.45"/>
<text x="1923.20" y="142.15" font-size="48.3" style="fill:#000000">Pax 2</text>
<line x1="1844.30" y1="180.60" x2="1918.00" y2="180.60" stroke="#00FF40" stroke-width="2.45"/>
<text x="1923.20" y="198.40" font-size="48.3" style="fill:#000000">Pax 3</text>
<line x1="1844.30" y1="236.85" x2="1918.00" y2="236.85" stroke="#00FFFF" stroke-width="2.45"/>
<text x="1923.20" y="254.65" font-size="48.3" style="fill:#000000">Pax 4</text>
<line x1="1844.30" y1="293.10" x2="1918.00" y2="293.10" stroke="#0040FF" stroke-width="2.45"/>
<text x="1923.20" y="310.90" font-size="48.3" style="fill:#000000">Pax 5</text>
<line x1="1844.30" y1="349.35" x2="1918.00" y2="349.35" stroke="#8000FF" stroke-width="2.45"/>
<text x="1923.20" y="367.15" font-size="48.3" style="fill:#000000">Pax 6</text>
<line x1="1844.30" y1="405.60" x2="1918.00" y2="405.60" stroke="#FF00BF" stroke-width="2.45"/>
<text x="1923.20" y="423.40" font-size="48.3" style="fill:#000000">Pax 7</text>
<line x1="1844.30" y1="461.85" x2="1918.00" y2="461.85" stroke="#000000" stroke-width="4.0"/>
<text x="1923.20" y="479.65" font-size="48.3" style="fill:#000000">Mean</text>
</svg></body></html>
